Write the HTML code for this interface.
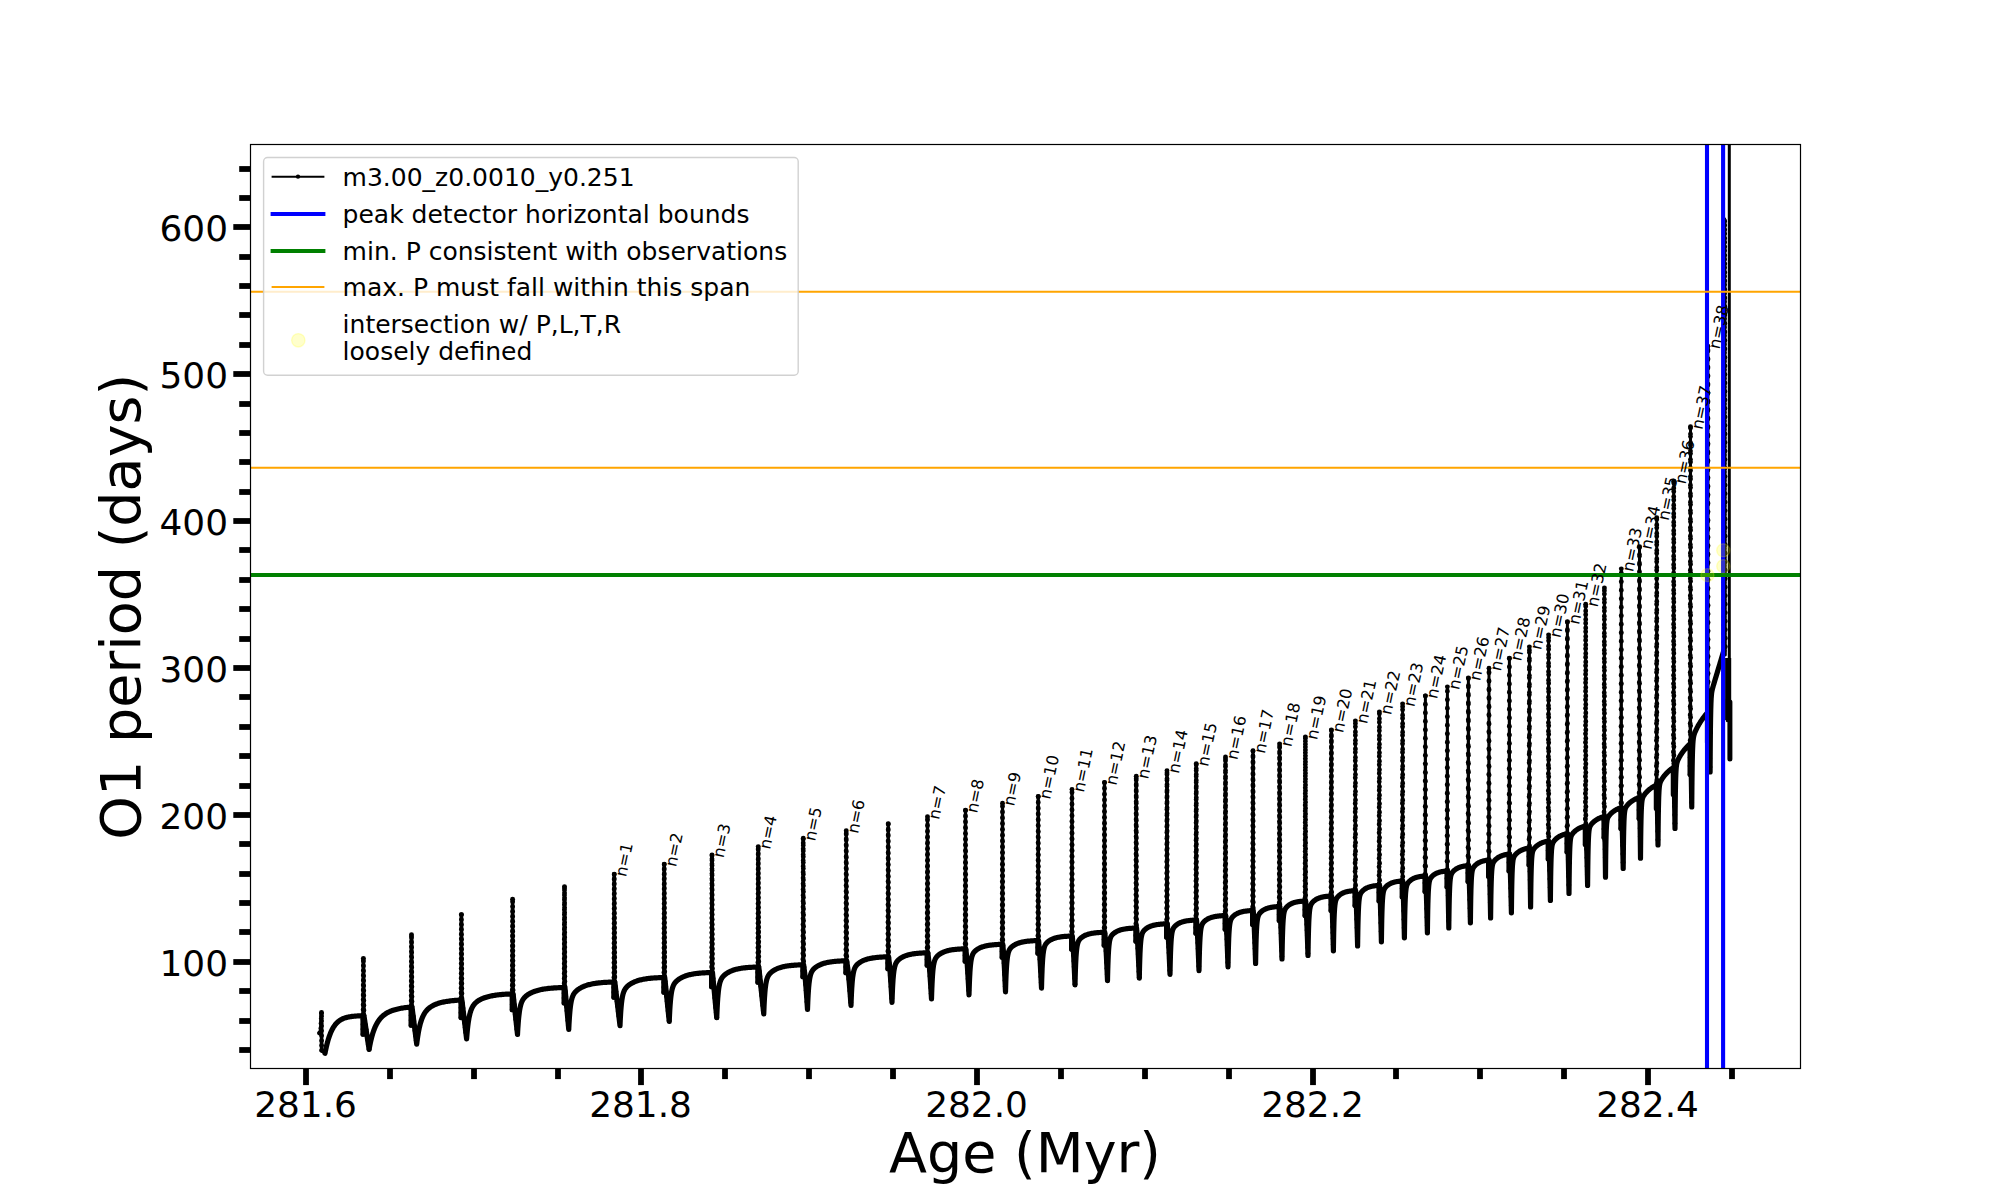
<!DOCTYPE html>
<html><head><meta charset="utf-8"><title>O1 period vs Age</title>
<style>
html,body{margin:0;padding:0;background:#fff;}
body{width:2000px;height:1200px;overflow:hidden;}
svg{display:block;font-family:"DejaVu Sans","Liberation Sans",sans-serif;}
</style></head><body>
<svg width="2000" height="1200" viewBox="0 0 2000 1200">
<rect width="2000" height="1200" fill="#fff"/>
<defs><clipPath id="ax"><rect x="250.5" y="144.5" width="1550.0" height="924.0"/></clipPath></defs>
<g clip-path="url(#ax)">
<g fill="none" stroke="#000" stroke-linejoin="round" stroke-linecap="round">
<path d="M325.00,1053.30 L325.01,1053.26 L325.03,1053.14 L325.07,1052.94 L325.12,1052.66 L325.19,1052.30 L325.28,1051.87 L325.38,1051.36 L325.50,1050.79 L325.63,1050.15 L325.78,1049.46 L325.94,1048.70 L326.12,1047.89 L326.31,1047.03 L326.52,1046.13 L326.74,1045.20 L326.99,1044.23 L327.24,1043.23 L327.51,1042.21 L327.80,1041.17 L328.10,1040.12 L328.42,1039.06 L328.75,1038.00 L329.10,1036.94 L329.47,1035.89 L329.85,1034.84 L330.24,1033.82 L330.65,1032.80 L331.08,1031.82 L331.52,1030.85 L331.98,1029.91 L332.45,1029.00 L332.94,1028.12 L333.45,1027.27 L333.96,1026.46 L334.50,1025.68 L335.05,1024.94 L335.62,1024.23 L336.20,1023.56 L336.80,1022.92 L337.41,1022.32 L338.04,1021.76 L338.68,1021.23 L339.34,1020.73 L340.01,1020.27 L340.70,1019.84 L341.41,1019.44 L342.13,1019.07 L342.87,1018.73 L343.62,1018.42 L344.39,1018.13 L345.17,1017.86 L345.97,1017.62 L346.78,1017.40 L347.61,1017.20 L348.46,1017.02 L349.32,1016.85 L350.20,1016.71 L351.09,1016.57 L352.00,1016.45 L352.92,1016.34 L353.86,1016.25 L354.81,1016.16 L355.78,1016.09 L356.76,1016.02 L357.77,1015.96 L358.78,1015.91 L359.81,1015.86 L360.86,1015.82 L361.92,1015.78 L363.00,1015.75 M363.00,1015.75 L363.00,1034.20 M363.97,1015.75 L365.25,1024.16 L366.54,1032.58 L367.82,1040.99 L369.10,1049.40 M369.10,1049.40 L369.11,1049.35 L369.13,1049.20 L369.18,1048.96 L369.24,1048.62 L369.31,1048.19 L369.41,1047.67 L369.52,1047.07 L369.65,1046.39 L369.79,1045.63 L369.96,1044.81 L370.14,1043.92 L370.33,1042.98 L370.55,1041.99 L370.78,1040.96 L371.03,1039.89 L371.29,1038.80 L371.58,1037.68 L371.88,1036.54 L372.19,1035.40 L372.53,1034.26 L372.88,1033.11 L373.25,1031.97 L373.63,1030.85 L374.04,1029.74 L374.46,1028.65 L374.89,1027.58 L375.35,1026.54 L375.82,1025.53 L376.31,1024.55 L376.81,1023.60 L377.34,1022.68 L377.88,1021.80 L378.43,1020.95 L379.01,1020.13 L379.60,1019.35 L380.21,1018.61 L380.83,1017.89 L381.48,1017.21 L382.14,1016.56 L382.81,1015.95 L383.51,1015.36 L384.22,1014.80 L384.95,1014.27 L385.69,1013.76 L386.46,1013.29 L387.24,1012.83 L388.03,1012.40 L388.85,1011.99 L389.68,1011.61 L390.53,1011.24 L391.39,1010.89 L392.28,1010.56 L393.18,1010.25 L394.09,1009.96 L395.03,1009.68 L395.98,1009.42 L396.95,1009.17 L397.93,1008.94 L398.94,1008.71 L399.96,1008.51 L400.99,1008.31 L402.05,1008.12 L403.12,1007.95 L404.21,1007.79 L405.31,1007.63 L406.44,1007.49 L407.58,1007.35 L408.73,1007.23 L409.91,1007.11 L411.10,1007.00 M411.10,1007.00 L411.10,1025.20 M412.02,1007.00 L413.19,1016.27 L414.36,1025.55 L415.53,1034.82 L416.70,1044.10 M416.70,1044.10 L416.71,1044.02 L416.74,1043.80 L416.78,1043.42 L416.84,1042.91 L416.93,1042.25 L417.03,1041.47 L417.14,1040.58 L417.28,1039.57 L417.43,1038.47 L417.60,1037.29 L417.79,1036.03 L418.00,1034.72 L418.23,1033.37 L418.47,1031.99 L418.73,1030.59 L419.01,1029.18 L419.31,1027.78 L419.63,1026.39 L419.96,1025.02 L420.32,1023.69 L420.69,1022.39 L421.08,1021.13 L421.48,1019.92 L421.91,1018.75 L422.35,1017.64 L422.81,1016.58 L423.29,1015.58 L423.79,1014.62 L424.30,1013.72 L424.84,1012.86 L425.39,1012.06 L425.96,1011.30 L426.55,1010.58 L427.15,1009.91 L427.77,1009.28 L428.42,1008.68 L429.08,1008.11 L429.75,1007.58 L430.45,1007.08 L431.17,1006.61 L431.90,1006.16 L432.65,1005.73 L433.42,1005.33 L434.20,1004.95 L435.01,1004.59 L435.83,1004.25 L436.67,1003.93 L437.53,1003.63 L438.41,1003.34 L439.30,1003.06 L440.22,1002.81 L441.15,1002.56 L442.10,1002.33 L443.06,1002.11 L444.05,1001.91 L445.05,1001.71 L446.07,1001.53 L447.11,1001.36 L448.17,1001.20 L449.25,1001.05 L450.34,1000.90 L451.45,1000.77 L452.58,1000.65 L453.73,1000.54 L454.90,1000.43 L456.08,1000.33 L457.28,1000.24 L458.50,1000.15 L459.74,1000.07 L461.00,1000.00 M461.00,1000.00 L461.00,1017.60 M461.92,1000.00 L463.09,1009.73 L464.26,1019.45 L465.43,1029.18 L466.60,1038.90 M466.60,1038.90 L466.61,1038.78 L466.64,1038.41 L466.68,1037.80 L466.75,1036.97 L466.83,1035.94 L466.94,1034.71 L467.06,1033.33 L467.20,1031.82 L467.35,1030.20 L467.53,1028.51 L467.73,1026.76 L467.94,1025.00 L468.17,1023.23 L468.42,1021.49 L468.69,1019.79 L468.98,1018.15 L469.29,1016.58 L469.62,1015.09 L469.96,1013.68 L470.32,1012.36 L470.70,1011.13 L471.10,1009.99 L471.52,1008.93 L471.96,1007.96 L472.42,1007.06 L472.89,1006.23 L473.38,1005.46 L473.90,1004.75 L474.43,1004.09 L474.98,1003.48 L475.54,1002.91 L476.13,1002.37 L476.73,1001.86 L477.36,1001.39 L478.00,1000.94 L478.66,1000.51 L479.34,1000.10 L480.04,999.72 L480.75,999.35 L481.49,998.99 L482.24,998.65 L483.02,998.33 L483.81,998.02 L484.62,997.73 L485.44,997.45 L486.29,997.18 L487.16,996.92 L488.04,996.68 L488.94,996.45 L489.87,996.24 L490.81,996.03 L491.76,995.84 L492.74,995.65 L493.74,995.48 L494.75,995.32 L495.78,995.17 L496.84,995.03 L497.91,994.90 L498.99,994.77 L500.10,994.66 L501.23,994.55 L502.37,994.46 L503.54,994.36 L504.72,994.28 L505.92,994.20 L507.14,994.13 L508.38,994.07 L509.63,994.01 L510.91,993.95 L512.20,993.90 M512.20,993.90 L512.20,1009.70 M513.09,993.90 L514.19,1004.05 L515.29,1014.20 L516.40,1024.35 L517.50,1034.50 M517.50,1034.50 L517.51,1034.32 L517.54,1033.77 L517.59,1032.88 L517.65,1031.67 L517.74,1030.18 L517.84,1028.46 L517.97,1026.54 L518.11,1024.50 L518.27,1022.37 L518.45,1020.20 L518.65,1018.04 L518.87,1015.93 L519.11,1013.89 L519.36,1011.96 L519.64,1010.15 L519.93,1008.48 L520.25,1006.94 L520.58,1005.54 L520.93,1004.27 L521.30,1003.12 L521.69,1002.09 L522.10,1001.16 L522.53,1000.31 L522.98,999.55 L523.44,998.85 L523.93,998.21 L524.43,997.62 L524.96,997.06 L525.50,996.54 L526.06,996.05 L526.64,995.58 L527.24,995.13 L527.86,994.70 L528.49,994.28 L529.15,993.88 L529.83,993.50 L530.52,993.13 L531.23,992.77 L531.97,992.43 L532.72,992.10 L533.49,991.78 L534.28,991.48 L535.08,991.19 L535.91,990.91 L536.76,990.65 L537.62,990.40 L538.51,990.16 L539.41,989.94 L540.33,989.73 L541.28,989.53 L542.24,989.34 L543.22,989.17 L544.21,989.00 L545.23,988.85 L546.27,988.71 L547.32,988.57 L548.40,988.45 L549.49,988.33 L550.61,988.23 L551.74,988.13 L552.89,988.04 L554.06,987.96 L555.25,987.88 L556.45,987.81 L557.68,987.74 L558.93,987.69 L560.19,987.63 L561.48,987.58 L562.78,987.54 L564.10,987.50 M564.10,987.50 L564.10,1002.95 M564.92,987.50 L565.88,998.00 L566.84,1008.50 L567.79,1019.00 L568.75,1029.50 M568.75,1029.50 L568.76,1029.30 L568.79,1028.69 L568.83,1027.70 L568.90,1026.36 L568.98,1024.73 L569.08,1022.84 L569.20,1020.77 L569.34,1018.56 L569.50,1016.28 L569.67,1013.99 L569.86,1011.72 L570.08,1009.53 L570.31,1007.45 L570.55,1005.50 L570.82,1003.70 L571.11,1002.05 L571.41,1000.55 L571.73,999.20 L572.07,998.00 L572.43,996.92 L572.81,995.96 L573.20,995.10 L573.62,994.32 L574.05,993.62 L574.50,992.98 L574.97,992.38 L575.46,991.83 L575.97,991.31 L576.49,990.82 L577.03,990.36 L577.60,989.91 L578.17,989.48 L578.77,989.06 L579.39,988.66 L580.02,988.27 L580.68,987.90 L581.35,987.53 L582.04,987.18 L582.75,986.85 L583.48,986.52 L584.22,986.21 L584.99,985.91 L585.77,985.63 L586.57,985.36 L587.39,985.10 L588.23,984.85 L589.08,984.62 L589.96,984.40 L590.85,984.19 L591.76,984.00 L592.69,983.81 L593.64,983.64 L594.60,983.48 L595.59,983.33 L596.59,983.19 L597.61,983.06 L598.65,982.93 L599.71,982.82 L600.79,982.72 L601.88,982.62 L603.00,982.53 L604.13,982.45 L605.28,982.37 L606.45,982.30 L607.64,982.24 L608.84,982.18 L610.07,982.13 L611.31,982.08 L612.57,982.04 L613.85,982.00 M613.85,982.00 L613.85,997.20 M614.83,982.00 L616.12,992.94 L617.41,1003.88 L618.71,1014.81 L620.00,1025.75 M620.00,1025.75 L620.01,1025.54 L620.04,1024.91 L620.08,1023.90 L620.14,1022.52 L620.22,1020.84 L620.32,1018.90 L620.44,1016.77 L620.57,1014.50 L620.72,1012.16 L620.89,1009.80 L621.08,1007.48 L621.29,1005.23 L621.51,1003.10 L621.75,1001.10 L622.01,999.25 L622.29,997.57 L622.59,996.04 L622.90,994.67 L623.23,993.44 L623.58,992.35 L623.95,991.38 L624.33,990.50 L624.73,989.72 L625.15,989.02 L625.59,988.37 L626.05,987.78 L626.52,987.23 L627.02,986.71 L627.53,986.23 L628.05,985.76 L628.60,985.32 L629.16,984.89 L629.75,984.48 L630.35,984.08 L630.96,983.70 L631.60,983.33 L632.25,982.97 L632.92,982.62 L633.61,982.29 L634.32,981.97 L635.04,981.66 L635.79,981.37 L636.55,981.09 L637.33,980.82 L638.12,980.56 L638.94,980.32 L639.77,980.09 L640.62,979.87 L641.49,979.67 L642.37,979.47 L643.28,979.29 L644.20,979.12 L645.14,978.96 L646.10,978.81 L647.07,978.67 L648.06,978.54 L649.08,978.42 L650.10,978.31 L651.15,978.21 L652.22,978.11 L653.30,978.02 L654.40,977.94 L655.52,977.87 L656.66,977.80 L657.81,977.74 L658.98,977.68 L660.17,977.63 L661.38,977.58 L662.61,977.54 L663.85,977.50 M663.85,977.50 L663.85,992.20 M664.75,977.50 L665.88,988.50 L667.00,999.50 L668.12,1010.50 L669.25,1021.50 M669.25,1021.50 L669.26,1021.28 L669.28,1020.64 L669.33,1019.60 L669.39,1018.18 L669.47,1016.45 L669.56,1014.46 L669.67,1012.27 L669.80,1009.94 L669.95,1007.53 L670.11,1005.11 L670.30,1002.73 L670.49,1000.43 L670.71,998.24 L670.94,996.19 L671.19,994.30 L671.46,992.58 L671.75,991.02 L672.05,989.62 L672.37,988.38 L672.71,987.27 L673.06,986.28 L673.43,985.40 L673.82,984.61 L674.23,983.91 L674.65,983.26 L675.09,982.67 L675.55,982.12 L676.03,981.61 L676.52,981.12 L677.03,980.66 L677.56,980.22 L678.10,979.80 L678.66,979.39 L679.24,979.00 L679.84,978.62 L680.45,978.25 L681.08,977.90 L681.73,977.56 L682.40,977.23 L683.08,976.91 L683.78,976.61 L684.50,976.32 L685.23,976.04 L685.98,975.78 L686.75,975.52 L687.54,975.29 L688.34,975.06 L689.16,974.84 L690.00,974.64 L690.86,974.45 L691.73,974.27 L692.62,974.10 L693.53,973.94 L694.45,973.80 L695.39,973.66 L696.35,973.53 L697.33,973.41 L698.32,973.30 L699.34,973.20 L700.36,973.10 L701.41,973.02 L702.47,972.94 L703.55,972.86 L704.65,972.80 L705.77,972.74 L706.90,972.68 L708.05,972.63 L709.21,972.58 L710.40,972.54 L711.60,972.50 M711.60,972.50 L711.60,986.70 M712.48,972.50 L713.54,983.81 L714.61,995.12 L715.68,1006.44 L716.75,1017.75 M716.75,1017.75 L716.76,1017.52 L716.78,1016.85 L716.83,1015.75 L716.88,1014.27 L716.96,1012.46 L717.05,1010.37 L717.16,1008.07 L717.29,1005.63 L717.43,1003.11 L717.59,1000.58 L717.76,998.08 L717.96,995.68 L718.17,993.39 L718.39,991.25 L718.64,989.28 L718.90,987.49 L719.17,985.86 L719.47,984.41 L719.78,983.12 L720.11,981.97 L720.45,980.95 L720.81,980.05 L721.19,979.24 L721.58,978.51 L721.99,977.85 L722.42,977.25 L722.86,976.69 L723.33,976.17 L723.80,975.68 L724.30,975.22 L724.81,974.77 L725.34,974.35 L725.88,973.94 L726.45,973.54 L727.02,973.16 L727.62,972.79 L728.23,972.43 L728.86,972.09 L729.51,971.76 L730.17,971.44 L730.85,971.14 L731.55,970.84 L732.26,970.56 L732.99,970.30 L733.74,970.04 L734.50,969.80 L735.28,969.57 L736.08,969.36 L736.89,969.15 L737.72,968.96 L738.57,968.78 L739.43,968.61 L740.31,968.45 L741.21,968.30 L742.12,968.17 L743.05,968.04 L744.00,967.92 L744.97,967.81 L745.95,967.70 L746.95,967.61 L747.96,967.52 L748.99,967.44 L750.04,967.37 L751.11,967.30 L752.19,967.24 L753.29,967.18 L754.40,967.13 L755.53,967.08 L756.68,967.04 L757.85,967.00 M757.85,967.00 L757.85,982.20 M758.80,967.00 L760.04,978.75 L761.27,990.50 L762.51,1002.25 L763.75,1014.00 M763.75,1014.00 L763.76,1013.78 L763.78,1013.12 L763.82,1012.04 L763.88,1010.59 L763.95,1008.81 L764.04,1006.76 L764.14,1004.50 L764.26,1002.11 L764.40,999.64 L764.55,997.16 L764.72,994.72 L764.90,992.36 L765.10,990.12 L765.31,988.03 L765.55,986.11 L765.79,984.36 L766.06,982.78 L766.34,981.37 L766.63,980.11 L766.94,979.00 L767.27,978.02 L767.61,977.14 L767.97,976.37 L768.35,975.67 L768.74,975.04 L769.14,974.46 L769.57,973.93 L770.01,973.44 L770.46,972.98 L770.93,972.54 L771.42,972.12 L771.92,971.71 L772.44,971.33 L772.97,970.95 L773.52,970.59 L774.09,970.25 L774.67,969.91 L775.27,969.59 L775.89,969.28 L776.52,968.98 L777.16,968.69 L777.83,968.42 L778.50,968.15 L779.20,967.90 L779.91,967.66 L780.63,967.44 L781.38,967.22 L782.13,967.02 L782.91,966.83 L783.70,966.65 L784.50,966.48 L785.33,966.32 L786.16,966.17 L787.02,966.03 L787.89,965.90 L788.77,965.78 L789.68,965.66 L790.59,965.56 L791.53,965.46 L792.48,965.37 L793.44,965.29 L794.42,965.21 L795.42,965.14 L796.43,965.08 L797.46,965.02 L798.51,964.97 L799.57,964.92 L800.65,964.88 L801.74,964.84 L802.85,964.80 M802.85,964.80 L802.85,976.70 M803.67,964.80 L805.03,975.97 L805.95,987.15 L806.76,998.33 L807.50,1009.50 M807.50,1009.50 L807.51,1009.28 L807.53,1008.61 L807.57,1007.54 L807.63,1006.08 L807.70,1004.30 L807.78,1002.25 L807.88,999.99 L808.00,997.59 L808.13,995.12 L808.28,992.64 L808.45,990.20 L808.63,987.84 L808.82,985.61 L809.03,983.52 L809.26,981.61 L809.50,979.86 L809.76,978.29 L810.04,976.89 L810.33,975.64 L810.63,974.54 L810.95,973.57 L811.29,972.71 L811.64,971.95 L812.01,971.27 L812.39,970.66 L812.79,970.10 L813.21,969.58 L813.64,969.10 L814.08,968.65 L814.54,968.23 L815.02,967.83 L815.51,967.44 L816.02,967.07 L816.55,966.71 L817.09,966.36 L817.64,966.03 L818.21,965.71 L818.80,965.40 L819.40,965.10 L820.02,964.81 L820.66,964.53 L821.31,964.27 L821.97,964.02 L822.65,963.78 L823.35,963.55 L824.06,963.33 L824.79,963.12 L825.53,962.93 L826.29,962.75 L827.07,962.57 L827.86,962.41 L828.66,962.26 L829.48,962.11 L830.32,961.98 L831.18,961.85 L832.04,961.74 L832.93,961.63 L833.83,961.53 L834.74,961.44 L835.68,961.35 L836.62,961.27 L837.59,961.20 L838.56,961.13 L839.56,961.07 L840.57,961.01 L841.59,960.96 L842.63,960.92 L843.69,960.87 L844.76,960.83 L845.85,960.80 M845.85,960.80 L845.85,972.70 M846.73,960.80 L848.24,971.97 L849.27,983.15 L850.17,994.33 L851.00,1005.50 M851.00,1005.50 L851.01,1005.27 L851.03,1004.60 L851.07,1003.51 L851.12,1002.04 L851.19,1000.24 L851.27,998.16 L851.37,995.88 L851.48,993.46 L851.61,990.96 L851.75,988.45 L851.91,985.98 L852.08,983.60 L852.27,981.35 L852.47,979.25 L852.69,977.32 L852.93,975.56 L853.17,973.99 L853.44,972.58 L853.71,971.33 L854.01,970.23 L854.32,969.27 L854.64,968.41 L854.98,967.66 L855.33,966.98 L855.70,966.38 L856.08,965.83 L856.48,965.32 L856.90,964.85 L857.32,964.42 L857.77,964.00 L858.23,963.61 L858.70,963.23 L859.19,962.87 L859.69,962.52 L860.21,962.19 L860.75,961.87 L861.30,961.55 L861.86,961.25 L862.44,960.96 L863.03,960.69 L863.64,960.42 L864.27,960.16 L864.91,959.92 L865.56,959.68 L866.23,959.46 L866.91,959.25 L867.61,959.05 L868.33,958.86 L869.06,958.68 L869.80,958.52 L870.56,958.36 L871.34,958.21 L872.12,958.07 L872.93,957.94 L873.75,957.82 L874.58,957.71 L875.43,957.60 L876.30,957.51 L877.18,957.42 L878.07,957.33 L878.98,957.26 L879.91,957.19 L880.85,957.12 L881.80,957.06 L882.77,957.01 L883.76,956.96 L884.76,956.91 L885.77,956.87 L886.80,956.83 L887.85,956.80 M887.85,956.80 L887.85,968.70 M888.62,956.80 L889.82,968.22 L890.63,979.65 L891.35,991.08 L892.00,1002.50 M892.00,1002.50 L892.01,1002.27 L892.03,1001.57 L892.06,1000.45 L892.11,998.93 L892.18,997.07 L892.26,994.92 L892.35,992.57 L892.46,990.07 L892.58,987.49 L892.72,984.91 L892.87,982.36 L893.03,979.91 L893.21,977.59 L893.40,975.43 L893.61,973.45 L893.83,971.64 L894.07,970.03 L894.32,968.59 L894.59,967.31 L894.87,966.19 L895.16,965.21 L895.47,964.34 L895.79,963.58 L896.13,962.90 L896.48,962.29 L896.84,961.74 L897.22,961.23 L897.62,960.76 L898.02,960.33 L898.45,959.92 L898.88,959.53 L899.34,959.16 L899.80,958.80 L900.28,958.45 L900.77,958.12 L901.28,957.80 L901.81,957.50 L902.34,957.20 L902.90,956.91 L903.46,956.64 L904.04,956.37 L904.64,956.12 L905.24,955.88 L905.87,955.65 L906.51,955.43 L907.16,955.22 L907.82,955.02 L908.50,954.84 L909.20,954.66 L909.91,954.50 L910.63,954.34 L911.37,954.19 L912.12,954.06 L912.89,953.93 L913.67,953.81 L914.46,953.70 L915.27,953.59 L916.10,953.50 L916.94,953.41 L917.79,953.33 L918.65,953.25 L919.54,953.18 L920.43,953.12 L921.34,953.06 L922.26,953.00 L923.20,952.96 L924.16,952.91 L925.12,952.87 L926.10,952.83 L927.10,952.80 M927.10,952.80 L927.10,965.20 M927.90,952.80 L929.17,964.35 L930.04,975.90 L930.80,987.45 L931.50,999.00 M931.50,999.00 L931.51,998.76 L931.53,998.05 L931.56,996.90 L931.61,995.35 L931.67,993.45 L931.75,991.26 L931.84,988.85 L931.94,986.30 L932.06,983.67 L932.19,981.03 L932.33,978.44 L932.49,975.94 L932.66,973.58 L932.84,971.38 L933.04,969.36 L933.26,967.53 L933.48,965.88 L933.72,964.43 L933.98,963.14 L934.24,962.01 L934.52,961.02 L934.82,960.14 L935.13,959.38 L935.45,958.70 L935.79,958.09 L936.14,957.55 L936.50,957.05 L936.88,956.59 L937.27,956.16 L937.67,955.76 L938.09,955.37 L938.52,955.01 L938.97,954.66 L939.43,954.32 L939.90,954.00 L940.39,953.69 L940.89,953.38 L941.40,953.09 L941.93,952.82 L942.47,952.55 L943.03,952.29 L943.60,952.04 L944.18,951.81 L944.78,951.58 L945.39,951.37 L946.01,951.16 L946.65,950.97 L947.30,950.79 L947.96,950.62 L948.64,950.46 L949.34,950.30 L950.04,950.16 L950.76,950.03 L951.50,949.90 L952.24,949.78 L953.00,949.67 L953.78,949.57 L954.57,949.48 L955.37,949.39 L956.19,949.31 L957.02,949.24 L957.86,949.17 L958.72,949.11 L959.59,949.05 L960.47,949.00 L961.37,948.95 L962.28,948.91 L963.21,948.87 L964.15,948.83 L965.10,948.80 M965.10,948.80 L965.10,961.20 M965.85,948.80 L966.96,960.35 L967.72,971.90 L968.39,983.45 L969.00,995.00 M969.00,995.00 L969.01,994.76 L969.03,994.03 L969.06,992.86 L969.11,991.27 L969.17,989.33 L969.24,987.09 L969.33,984.64 L969.43,982.03 L969.55,979.35 L969.68,976.65 L969.82,974.01 L969.97,971.46 L970.14,969.06 L970.32,966.82 L970.52,964.76 L970.73,962.90 L970.95,961.24 L971.19,959.76 L971.44,958.46 L971.70,957.31 L971.98,956.32 L972.27,955.44 L972.57,954.68 L972.89,954.00 L973.22,953.40 L973.57,952.85 L973.92,952.36 L974.30,951.91 L974.68,951.48 L975.08,951.09 L975.49,950.71 L975.92,950.36 L976.36,950.01 L976.81,949.69 L977.27,949.37 L977.75,949.06 L978.25,948.77 L978.75,948.49 L979.27,948.22 L979.81,947.95 L980.36,947.70 L980.92,947.46 L981.49,947.23 L982.08,947.01 L982.68,946.80 L983.29,946.61 L983.92,946.42 L984.56,946.24 L985.22,946.07 L985.89,945.91 L986.57,945.77 L987.27,945.63 L987.98,945.50 L988.70,945.37 L989.43,945.26 L990.18,945.15 L990.95,945.05 L991.72,944.96 L992.51,944.88 L993.32,944.80 L994.14,944.73 L994.97,944.66 L995.81,944.60 L996.67,944.55 L997.54,944.49 L998.43,944.45 L999.32,944.41 L1000.24,944.37 L1001.16,944.33 L1002.10,944.30 M1002.10,944.30 L1002.10,957.20 M1002.80,944.30 L1003.75,956.22 L1004.41,968.15 L1004.98,980.08 L1005.50,992.00 M1005.50,992.00 L1005.51,991.75 L1005.53,991.01 L1005.56,989.80 L1005.61,988.17 L1005.67,986.18 L1005.74,983.89 L1005.82,981.37 L1005.92,978.69 L1006.03,975.94 L1006.16,973.18 L1006.30,970.47 L1006.45,967.86 L1006.62,965.40 L1006.79,963.11 L1006.99,961.01 L1007.19,959.11 L1007.41,957.41 L1007.64,955.91 L1007.88,954.59 L1008.14,953.43 L1008.41,952.42 L1008.70,951.54 L1008.99,950.77 L1009.30,950.09 L1009.63,949.48 L1009.96,948.94 L1010.31,948.45 L1010.68,948.01 L1011.05,947.59 L1011.44,947.20 L1011.84,946.83 L1012.26,946.48 L1012.69,946.14 L1013.13,945.82 L1013.59,945.51 L1014.06,945.21 L1014.54,944.93 L1015.03,944.65 L1015.54,944.38 L1016.06,944.13 L1016.60,943.88 L1017.15,943.64 L1017.71,943.42 L1018.28,943.20 L1018.87,943.00 L1019.47,942.81 L1020.08,942.62 L1020.71,942.45 L1021.35,942.28 L1022.01,942.13 L1022.67,941.98 L1023.35,941.85 L1024.05,941.72 L1024.75,941.60 L1025.47,941.49 L1026.20,941.38 L1026.95,941.29 L1027.71,941.20 L1028.48,941.12 L1029.27,941.04 L1030.07,940.97 L1030.88,940.90 L1031.70,940.85 L1032.54,940.79 L1033.39,940.74 L1034.26,940.69 L1035.14,940.65 L1036.03,940.62 L1036.93,940.58 L1037.85,940.55 M1037.85,940.55 L1037.85,953.20 M1038.58,940.55 L1039.61,952.47 L1040.31,964.40 L1040.93,976.33 L1041.50,988.25 M1041.50,988.25 L1041.51,987.99 L1041.52,987.23 L1041.56,985.99 L1041.60,984.32 L1041.65,982.28 L1041.72,979.93 L1041.80,977.34 L1041.89,974.60 L1042.00,971.78 L1042.11,968.95 L1042.24,966.18 L1042.38,963.51 L1042.54,960.99 L1042.70,958.64 L1042.88,956.50 L1043.07,954.56 L1043.28,952.83 L1043.49,951.30 L1043.72,949.96 L1043.96,948.78 L1044.21,947.76 L1044.47,946.87 L1044.75,946.10 L1045.04,945.42 L1045.34,944.81 L1045.65,944.28 L1045.98,943.79 L1046.32,943.35 L1046.67,942.94 L1047.03,942.55 L1047.40,942.19 L1047.79,941.85 L1048.19,941.52 L1048.60,941.20 L1049.03,940.90 L1049.46,940.61 L1049.91,940.32 L1050.37,940.05 L1050.84,939.79 L1051.33,939.54 L1051.83,939.30 L1052.34,939.07 L1052.86,938.85 L1053.39,938.64 L1053.94,938.44 L1054.50,938.25 L1055.07,938.07 L1055.65,937.90 L1056.25,937.74 L1056.86,937.59 L1057.48,937.45 L1058.11,937.32 L1058.76,937.19 L1059.41,937.08 L1060.08,936.97 L1060.76,936.87 L1061.46,936.77 L1062.16,936.68 L1062.88,936.60 L1063.61,936.53 L1064.36,936.46 L1065.11,936.40 L1065.88,936.34 L1066.66,936.28 L1067.45,936.24 L1068.26,936.19 L1069.08,936.15 L1069.90,936.11 L1070.75,936.08 L1071.60,936.05 M1071.60,936.05 L1071.60,949.20 M1072.30,936.05 L1073.25,948.29 L1073.91,960.52 L1074.48,972.76 L1075.00,985.00 M1075.00,985.00 L1075.01,984.74 L1075.02,983.96 L1075.05,982.70 L1075.10,980.99 L1075.15,978.90 L1075.21,976.50 L1075.29,973.87 L1075.38,971.07 L1075.48,968.20 L1075.59,965.31 L1075.72,962.48 L1075.86,959.76 L1076.00,957.20 L1076.16,954.81 L1076.34,952.64 L1076.52,950.67 L1076.72,948.91 L1076.92,947.36 L1077.14,946.00 L1077.38,944.82 L1077.62,943.79 L1077.87,942.90 L1078.14,942.12 L1078.42,941.44 L1078.71,940.85 L1079.01,940.31 L1079.33,939.83 L1079.66,939.40 L1079.99,938.99 L1080.34,938.62 L1080.71,938.26 L1081.08,937.93 L1081.47,937.61 L1081.87,937.30 L1082.28,937.01 L1082.70,936.72 L1083.13,936.45 L1083.58,936.19 L1084.03,935.93 L1084.50,935.69 L1084.98,935.46 L1085.48,935.23 L1085.98,935.02 L1086.50,934.82 L1087.03,934.62 L1087.57,934.44 L1088.12,934.27 L1088.68,934.10 L1089.26,933.94 L1089.85,933.80 L1090.45,933.66 L1091.06,933.53 L1091.68,933.41 L1092.32,933.30 L1092.96,933.19 L1093.62,933.09 L1094.30,933.00 L1094.98,932.92 L1095.67,932.84 L1096.38,932.76 L1097.10,932.70 L1097.83,932.64 L1098.57,932.58 L1099.33,932.53 L1100.09,932.48 L1100.87,932.44 L1101.66,932.40 L1102.46,932.36 L1103.27,932.33 L1104.10,932.30 M1104.10,932.30 L1104.10,945.20 M1104.80,932.30 L1105.75,944.41 L1106.41,956.52 L1106.98,968.64 L1107.50,980.75 M1107.50,980.75 L1107.51,980.47 L1107.52,979.64 L1107.55,978.30 L1107.59,976.48 L1107.64,974.27 L1107.71,971.74 L1107.78,968.98 L1107.87,966.06 L1107.97,963.09 L1108.08,960.12 L1108.20,957.24 L1108.33,954.49 L1108.48,951.93 L1108.63,949.57 L1108.80,947.43 L1108.98,945.52 L1109.17,943.84 L1109.37,942.37 L1109.59,941.10 L1109.81,940.00 L1110.05,939.05 L1110.30,938.23 L1110.56,937.53 L1110.83,936.91 L1111.12,936.36 L1111.41,935.88 L1111.72,935.43 L1112.04,935.03 L1112.37,934.65 L1112.71,934.30 L1113.06,933.96 L1113.42,933.64 L1113.80,933.33 L1114.19,933.03 L1114.59,932.74 L1115.00,932.47 L1115.42,932.20 L1115.85,931.94 L1116.30,931.69 L1116.76,931.45 L1117.23,931.22 L1117.71,931.00 L1118.20,930.78 L1118.70,930.58 L1119.22,930.39 L1119.74,930.21 L1120.28,930.03 L1120.83,929.87 L1121.39,929.71 L1121.96,929.57 L1122.55,929.43 L1123.14,929.30 L1123.75,929.18 L1124.37,929.06 L1125.00,928.95 L1125.64,928.86 L1126.30,928.76 L1126.96,928.68 L1127.64,928.60 L1128.33,928.52 L1129.03,928.46 L1129.74,928.39 L1130.46,928.34 L1131.20,928.28 L1131.94,928.24 L1132.70,928.19 L1133.47,928.15 L1134.25,928.11 L1135.05,928.08 L1135.85,928.05 M1135.85,928.05 L1135.85,941.20 M1136.56,928.05 L1137.53,940.60 L1138.19,953.15 L1138.77,965.70 L1139.30,978.25 M1139.30,978.25 L1139.31,977.96 L1139.32,977.10 L1139.35,975.70 L1139.39,973.83 L1139.44,971.53 L1139.50,968.91 L1139.57,966.04 L1139.66,963.02 L1139.75,959.94 L1139.86,956.86 L1139.97,953.88 L1140.10,951.03 L1140.24,948.37 L1140.39,945.93 L1140.55,943.72 L1140.73,941.75 L1140.91,940.01 L1141.11,938.50 L1141.31,937.18 L1141.53,936.05 L1141.76,935.08 L1142.00,934.24 L1142.25,933.51 L1142.51,932.88 L1142.78,932.32 L1143.07,931.82 L1143.36,931.37 L1143.67,930.96 L1143.99,930.58 L1144.31,930.22 L1144.65,929.88 L1145.01,929.55 L1145.37,929.23 L1145.74,928.93 L1146.12,928.64 L1146.52,928.36 L1146.93,928.08 L1147.35,927.82 L1147.77,927.56 L1148.21,927.32 L1148.67,927.08 L1149.13,926.85 L1149.60,926.64 L1150.09,926.43 L1150.58,926.23 L1151.09,926.04 L1151.61,925.86 L1152.14,925.69 L1152.68,925.53 L1153.23,925.38 L1153.79,925.24 L1154.37,925.10 L1154.95,924.98 L1155.55,924.86 L1156.15,924.75 L1156.77,924.65 L1157.40,924.55 L1158.04,924.46 L1158.69,924.38 L1159.36,924.30 L1160.03,924.23 L1160.72,924.16 L1161.41,924.10 L1162.12,924.05 L1162.84,924.00 L1163.57,923.95 L1164.31,923.91 L1165.06,923.87 L1165.83,923.83 L1166.60,923.80 M1166.60,923.80 L1166.60,937.20 M1167.30,923.80 L1168.25,936.47 L1168.91,949.15 L1169.48,961.83 L1170.00,974.50 M1170.00,974.50 L1170.01,974.21 L1170.02,973.35 L1170.05,971.94 L1170.08,970.06 L1170.13,967.76 L1170.19,965.13 L1170.26,962.25 L1170.34,959.22 L1170.43,956.12 L1170.53,953.04 L1170.64,950.04 L1170.76,947.19 L1170.89,944.53 L1171.03,942.08 L1171.19,939.87 L1171.35,937.90 L1171.52,936.16 L1171.71,934.64 L1171.90,933.33 L1172.11,932.20 L1172.33,931.23 L1172.55,930.40 L1172.79,929.68 L1173.04,929.05 L1173.30,928.50 L1173.57,928.01 L1173.85,927.57 L1174.14,927.16 L1174.44,926.78 L1174.75,926.43 L1175.07,926.09 L1175.40,925.77 L1175.75,925.46 L1176.10,925.16 L1176.46,924.87 L1176.84,924.59 L1177.22,924.32 L1177.62,924.06 L1178.02,923.81 L1178.44,923.57 L1178.87,923.34 L1179.31,923.11 L1179.75,922.90 L1180.21,922.69 L1180.68,922.49 L1181.16,922.31 L1181.65,922.13 L1182.15,921.96 L1182.67,921.80 L1183.19,921.65 L1183.72,921.50 L1184.26,921.37 L1184.82,921.24 L1185.38,921.12 L1185.96,921.01 L1186.54,920.91 L1187.14,920.81 L1187.75,920.72 L1188.36,920.64 L1188.99,920.56 L1189.63,920.49 L1190.28,920.42 L1190.94,920.36 L1191.61,920.30 L1192.29,920.25 L1192.98,920.20 L1193.68,920.16 L1194.39,920.12 L1195.12,920.08 L1195.85,920.05 M1195.85,920.05 L1195.85,933.20 M1196.53,920.05 L1197.40,932.72 L1198.00,945.40 L1198.52,958.08 L1199.00,970.75 M1199.00,970.75 L1199.01,970.45 L1199.02,969.58 L1199.05,968.15 L1199.09,966.23 L1199.13,963.89 L1199.19,961.21 L1199.26,958.28 L1199.34,955.20 L1199.43,952.05 L1199.53,948.92 L1199.64,945.87 L1199.77,942.97 L1199.90,940.27 L1200.04,937.78 L1200.20,935.54 L1200.36,933.54 L1200.54,931.77 L1200.73,930.24 L1200.92,928.91 L1201.13,927.77 L1201.35,926.79 L1201.58,925.95 L1201.82,925.23 L1202.07,924.60 L1202.33,924.04 L1202.60,923.55 L1202.88,923.11 L1203.18,922.70 L1203.48,922.33 L1203.79,921.97 L1204.12,921.64 L1204.45,921.32 L1204.80,921.01 L1205.16,920.71 L1205.53,920.42 L1205.90,920.14 L1206.29,919.87 L1206.69,919.61 L1207.10,919.36 L1207.52,919.12 L1207.95,918.88 L1208.40,918.66 L1208.85,918.44 L1209.31,918.24 L1209.79,918.04 L1210.27,917.85 L1210.77,917.67 L1211.27,917.50 L1211.79,917.34 L1212.32,917.18 L1212.85,917.04 L1213.40,916.90 L1213.96,916.77 L1214.53,916.65 L1215.11,916.54 L1215.70,916.43 L1216.31,916.33 L1216.92,916.24 L1217.54,916.16 L1218.18,916.08 L1218.82,916.00 L1219.48,915.93 L1220.14,915.87 L1220.82,915.81 L1221.50,915.76 L1222.20,915.71 L1222.91,915.66 L1223.63,915.62 L1224.36,915.58 L1225.10,915.55 M1225.10,915.55 L1225.10,929.20 M1225.75,915.55 L1226.55,928.41 L1227.09,941.27 L1227.56,954.14 L1228.00,967.00 M1228.00,967.00 L1228.01,966.70 L1228.02,965.79 L1228.05,964.33 L1228.08,962.36 L1228.13,959.95 L1228.18,957.20 L1228.25,954.19 L1228.32,951.03 L1228.41,947.79 L1228.50,944.58 L1228.61,941.45 L1228.72,938.47 L1228.85,935.70 L1228.98,933.15 L1229.13,930.85 L1229.29,928.80 L1229.45,926.99 L1229.63,925.42 L1229.81,924.07 L1230.01,922.90 L1230.21,921.90 L1230.43,921.05 L1230.66,920.31 L1230.89,919.67 L1231.14,919.11 L1231.39,918.62 L1231.66,918.17 L1231.94,917.76 L1232.22,917.38 L1232.52,917.03 L1232.82,916.69 L1233.14,916.36 L1233.47,916.05 L1233.80,915.75 L1234.15,915.47 L1234.51,915.18 L1234.87,914.91 L1235.25,914.65 L1235.64,914.39 L1236.03,914.15 L1236.44,913.91 L1236.86,913.68 L1237.28,913.46 L1237.72,913.25 L1238.17,913.05 L1238.62,912.86 L1239.09,912.68 L1239.57,912.50 L1240.05,912.34 L1240.55,912.18 L1241.06,912.04 L1241.58,911.90 L1242.10,911.76 L1242.64,911.64 L1243.19,911.52 L1243.74,911.41 L1244.31,911.31 L1244.89,911.22 L1245.48,911.13 L1246.07,911.05 L1246.68,910.97 L1247.30,910.90 L1247.93,910.83 L1248.56,910.77 L1249.21,910.72 L1249.87,910.67 L1250.54,910.62 L1251.21,910.58 L1251.90,910.54 L1252.60,910.50 M1252.60,910.50 L1252.60,924.50 M1253.26,910.50 L1254.09,923.73 L1254.65,936.95 L1255.15,950.17 L1255.60,963.40 M1255.60,963.40 L1255.60,963.09 L1255.62,962.18 L1255.64,960.70 L1255.68,958.71 L1255.72,956.28 L1255.77,953.49 L1255.84,950.45 L1255.91,947.25 L1255.99,943.99 L1256.08,940.74 L1256.18,937.58 L1256.29,934.58 L1256.41,931.77 L1256.54,929.20 L1256.68,926.88 L1256.83,924.81 L1256.99,923.00 L1257.16,921.42 L1257.34,920.05 L1257.53,918.88 L1257.72,917.88 L1257.93,917.02 L1258.15,916.29 L1258.37,915.65 L1258.61,915.09 L1258.86,914.60 L1259.11,914.15 L1259.38,913.75 L1259.65,913.37 L1259.93,913.02 L1260.23,912.69 L1260.53,912.37 L1260.84,912.06 L1261.17,911.76 L1261.50,911.48 L1261.84,911.20 L1262.19,910.93 L1262.55,910.67 L1262.93,910.41 L1263.31,910.17 L1263.70,909.93 L1264.10,909.71 L1264.51,909.49 L1264.92,909.28 L1265.35,909.08 L1265.79,908.89 L1266.24,908.70 L1266.70,908.53 L1267.16,908.36 L1267.64,908.21 L1268.13,908.06 L1268.62,907.92 L1269.13,907.78 L1269.64,907.66 L1270.17,907.54 L1270.70,907.43 L1271.25,907.33 L1271.80,907.23 L1272.37,907.14 L1272.94,907.06 L1273.52,906.98 L1274.11,906.91 L1274.72,906.84 L1275.33,906.78 L1275.95,906.72 L1276.58,906.67 L1277.22,906.62 L1277.87,906.58 L1278.53,906.54 L1279.20,906.50 M1279.20,906.50 L1279.20,920.50 M1279.84,906.50 L1280.60,919.62 L1281.12,932.75 L1281.58,945.88 L1282.00,959.00 M1282.00,959.00 L1282.00,958.68 L1282.02,957.75 L1282.04,956.24 L1282.08,954.20 L1282.12,951.71 L1282.17,948.86 L1282.23,945.75 L1282.30,942.48 L1282.38,939.14 L1282.47,935.82 L1282.57,932.59 L1282.68,929.52 L1282.79,926.65 L1282.92,924.03 L1283.06,921.66 L1283.20,919.55 L1283.36,917.70 L1283.52,916.09 L1283.69,914.70 L1283.88,913.51 L1284.07,912.49 L1284.27,911.62 L1284.48,910.88 L1284.70,910.23 L1284.93,909.67 L1285.17,909.17 L1285.42,908.73 L1285.68,908.32 L1285.95,907.94 L1286.22,907.59 L1286.51,907.26 L1286.81,906.94 L1287.11,906.63 L1287.43,906.33 L1287.75,906.04 L1288.08,905.76 L1288.43,905.49 L1288.78,905.23 L1289.14,904.98 L1289.51,904.73 L1289.89,904.49 L1290.28,904.27 L1290.68,904.04 L1291.09,903.83 L1291.51,903.63 L1291.93,903.44 L1292.37,903.25 L1292.81,903.07 L1293.27,902.91 L1293.73,902.75 L1294.21,902.60 L1294.69,902.45 L1295.19,902.32 L1295.69,902.19 L1296.20,902.07 L1296.72,901.96 L1297.25,901.85 L1297.79,901.76 L1298.34,901.66 L1298.90,901.58 L1299.47,901.50 L1300.04,901.42 L1300.63,901.35 L1301.23,901.29 L1301.83,901.23 L1302.45,901.18 L1303.07,901.13 L1303.70,901.08 L1304.35,901.04 L1305.00,901.00 M1305.00,901.00 L1305.00,915.50 M1305.66,901.00 L1306.49,914.60 L1307.05,928.20 L1307.55,941.80 L1308.00,955.40 M1308.00,955.40 L1308.00,955.08 L1308.02,954.12 L1308.04,952.56 L1308.08,950.46 L1308.12,947.91 L1308.17,944.98 L1308.23,941.78 L1308.30,938.42 L1308.38,934.99 L1308.47,931.57 L1308.57,928.26 L1308.68,925.10 L1308.79,922.16 L1308.92,919.47 L1309.06,917.04 L1309.20,914.87 L1309.36,912.98 L1309.52,911.33 L1309.69,909.91 L1309.88,908.69 L1310.07,907.66 L1310.27,906.77 L1310.48,906.01 L1310.70,905.36 L1310.93,904.79 L1311.17,904.29 L1311.42,903.83 L1311.68,903.42 L1311.95,903.04 L1312.22,902.69 L1312.51,902.35 L1312.81,902.03 L1313.11,901.72 L1313.43,901.42 L1313.75,901.13 L1314.08,900.85 L1314.43,900.58 L1314.78,900.31 L1315.14,900.06 L1315.51,899.81 L1315.89,899.57 L1316.28,899.34 L1316.68,899.12 L1317.09,898.90 L1317.51,898.70 L1317.93,898.50 L1318.37,898.31 L1318.81,898.13 L1319.27,897.96 L1319.73,897.80 L1320.21,897.64 L1320.69,897.50 L1321.19,897.36 L1321.69,897.23 L1322.20,897.11 L1322.72,896.99 L1323.25,896.88 L1323.79,896.78 L1324.34,896.69 L1324.90,896.60 L1325.47,896.52 L1326.04,896.44 L1326.63,896.37 L1327.23,896.30 L1327.83,896.24 L1328.45,896.18 L1329.07,896.13 L1329.70,896.08 L1330.35,896.04 L1331.00,896.00 M1331.00,896.00 L1331.00,910.50 M1331.60,896.00 L1332.24,909.70 L1332.67,923.40 L1333.05,937.10 L1333.40,950.80 M1333.40,950.80 L1333.40,950.47 L1333.42,949.49 L1333.44,947.91 L1333.47,945.78 L1333.51,943.18 L1333.56,940.20 L1333.62,936.95 L1333.68,933.53 L1333.76,930.04 L1333.84,926.56 L1333.93,923.19 L1334.03,919.99 L1334.14,917.00 L1334.26,914.26 L1334.39,911.80 L1334.53,909.60 L1334.67,907.68 L1334.83,906.01 L1334.99,904.57 L1335.16,903.34 L1335.34,902.29 L1335.53,901.40 L1335.73,900.64 L1335.94,899.98 L1336.16,899.41 L1336.38,898.91 L1336.61,898.46 L1336.86,898.05 L1337.11,897.67 L1337.37,897.31 L1337.64,896.98 L1337.91,896.66 L1338.20,896.35 L1338.50,896.05 L1338.80,895.77 L1339.11,895.49 L1339.43,895.21 L1339.77,894.95 L1340.10,894.69 L1340.45,894.45 L1340.81,894.21 L1341.18,893.97 L1341.55,893.75 L1341.93,893.54 L1342.33,893.33 L1342.73,893.13 L1343.14,892.94 L1343.56,892.76 L1343.98,892.59 L1344.42,892.43 L1344.87,892.27 L1345.32,892.12 L1345.78,891.99 L1346.25,891.85 L1346.73,891.73 L1347.22,891.61 L1347.72,891.50 L1348.23,891.40 L1348.74,891.30 L1349.27,891.21 L1349.80,891.13 L1350.34,891.05 L1350.90,890.98 L1351.46,890.91 L1352.02,890.85 L1352.60,890.79 L1353.19,890.74 L1353.78,890.69 L1354.39,890.64 L1355.00,890.60 M1355.00,890.60 L1355.00,905.50 M1355.62,890.60 L1356.32,904.45 L1356.80,918.30 L1357.22,932.15 L1357.60,946.00 M1357.60,946.00 L1357.60,945.67 L1357.62,944.68 L1357.64,943.08 L1357.67,940.92 L1357.71,938.30 L1357.76,935.29 L1357.81,932.00 L1357.88,928.55 L1357.95,925.02 L1358.04,921.52 L1358.13,918.11 L1358.23,914.88 L1358.34,911.86 L1358.46,909.10 L1358.58,906.61 L1358.72,904.40 L1358.86,902.46 L1359.02,900.78 L1359.18,899.34 L1359.35,898.10 L1359.53,897.05 L1359.71,896.16 L1359.91,895.40 L1360.12,894.74 L1360.33,894.17 L1360.55,893.67 L1360.78,893.22 L1361.02,892.82 L1361.27,892.44 L1361.53,892.09 L1361.80,891.76 L1362.07,891.44 L1362.36,891.14 L1362.65,890.85 L1362.95,890.56 L1363.26,890.28 L1363.58,890.01 L1363.91,889.75 L1364.24,889.50 L1364.59,889.25 L1364.94,889.02 L1365.30,888.79 L1365.68,888.56 L1366.06,888.35 L1366.44,888.15 L1366.84,887.95 L1367.25,887.76 L1367.66,887.58 L1368.09,887.41 L1368.52,887.24 L1368.96,887.09 L1369.41,886.94 L1369.87,886.80 L1370.34,886.67 L1370.81,886.54 L1371.30,886.43 L1371.79,886.32 L1372.29,886.21 L1372.80,886.11 L1373.32,886.02 L1373.85,885.94 L1374.39,885.86 L1374.93,885.79 L1375.49,885.72 L1376.05,885.65 L1376.62,885.59 L1377.21,885.54 L1377.79,885.49 L1378.39,885.44 L1379.00,885.40 M1379.00,885.40 L1379.00,900.90 M1379.60,885.40 L1380.24,899.50 L1380.67,913.60 L1381.05,927.70 L1381.40,941.80 M1381.40,941.80 L1381.40,941.46 L1381.42,940.47 L1381.44,938.86 L1381.47,936.69 L1381.51,934.04 L1381.55,931.01 L1381.61,927.71 L1381.67,924.23 L1381.74,920.67 L1381.82,917.15 L1381.91,913.72 L1382.01,910.47 L1382.12,907.43 L1382.23,904.66 L1382.36,902.15 L1382.49,899.93 L1382.63,897.99 L1382.78,896.30 L1382.93,894.85 L1383.10,893.62 L1383.27,892.57 L1383.45,891.67 L1383.65,890.91 L1383.85,890.26 L1384.05,889.70 L1384.27,889.20 L1384.49,888.76 L1384.73,888.36 L1384.97,887.99 L1385.22,887.64 L1385.48,887.32 L1385.75,887.01 L1386.02,886.71 L1386.31,886.42 L1386.60,886.14 L1386.90,885.86 L1387.21,885.60 L1387.53,885.34 L1387.86,885.09 L1388.19,884.85 L1388.54,884.61 L1388.89,884.38 L1389.25,884.16 L1389.62,883.95 L1390.00,883.75 L1390.38,883.55 L1390.78,883.37 L1391.18,883.19 L1391.59,883.02 L1392.01,882.85 L1392.44,882.70 L1392.88,882.55 L1393.32,882.41 L1393.78,882.28 L1394.24,882.15 L1394.71,882.04 L1395.19,881.92 L1395.68,881.82 L1396.18,881.72 L1396.68,881.63 L1397.20,881.55 L1397.72,881.47 L1398.25,881.39 L1398.79,881.32 L1399.33,881.26 L1399.89,881.20 L1400.46,881.14 L1401.03,881.09 L1401.61,881.04 L1402.20,881.00 M1402.20,881.00 L1402.20,896.90 M1402.78,881.00 L1403.35,895.20 L1403.74,909.40 L1404.09,923.60 L1404.40,937.80 M1404.40,937.80 L1404.40,937.46 L1404.42,936.44 L1404.44,934.80 L1404.47,932.58 L1404.51,929.88 L1404.55,926.79 L1404.61,923.42 L1404.67,919.87 L1404.74,916.25 L1404.82,912.65 L1404.91,909.16 L1405.01,905.84 L1405.11,902.75 L1405.22,899.92 L1405.35,897.37 L1405.48,895.11 L1405.61,893.13 L1405.76,891.42 L1405.92,889.95 L1406.08,888.69 L1406.25,887.63 L1406.43,886.73 L1406.62,885.96 L1406.82,885.30 L1407.03,884.73 L1407.24,884.24 L1407.46,883.79 L1407.70,883.39 L1407.94,883.02 L1408.18,882.68 L1408.44,882.35 L1408.70,882.04 L1408.98,881.74 L1409.26,881.45 L1409.55,881.17 L1409.85,880.90 L1410.16,880.64 L1410.47,880.38 L1410.79,880.13 L1411.13,879.89 L1411.47,879.65 L1411.82,879.42 L1412.17,879.20 L1412.54,878.99 L1412.91,878.79 L1413.30,878.59 L1413.69,878.40 L1414.09,878.22 L1414.49,878.05 L1414.91,877.88 L1415.33,877.73 L1415.77,877.58 L1416.21,877.44 L1416.66,877.30 L1417.12,877.18 L1417.58,877.06 L1418.06,876.94 L1418.54,876.84 L1419.03,876.74 L1419.53,876.65 L1420.04,876.56 L1420.56,876.48 L1421.09,876.40 L1421.62,876.33 L1422.16,876.26 L1422.71,876.20 L1423.27,876.15 L1423.84,876.09 L1424.42,876.04 L1425.00,876.00 M1425.00,876.00 L1425.00,891.50 M1425.60,876.00 L1426.24,890.20 L1426.67,904.40 L1427.05,918.60 L1427.40,932.80 M1427.40,932.80 L1427.40,932.46 L1427.42,931.44 L1427.44,929.79 L1427.46,927.56 L1427.50,924.85 L1427.54,921.75 L1427.60,918.37 L1427.66,914.80 L1427.72,911.17 L1427.80,907.56 L1427.88,904.05 L1427.98,900.73 L1428.08,897.63 L1428.18,894.79 L1428.30,892.24 L1428.42,889.98 L1428.56,887.99 L1428.70,886.28 L1428.84,884.81 L1429.00,883.56 L1429.16,882.50 L1429.34,881.60 L1429.52,880.84 L1429.70,880.19 L1429.90,879.62 L1430.10,879.13 L1430.32,878.70 L1430.54,878.30 L1430.76,877.94 L1431.00,877.60 L1431.24,877.28 L1431.50,876.98 L1431.76,876.68 L1432.02,876.40 L1432.30,876.12 L1432.58,875.86 L1432.88,875.60 L1433.18,875.34 L1433.48,875.10 L1433.80,874.86 L1434.12,874.63 L1434.46,874.40 L1434.80,874.19 L1435.14,873.98 L1435.50,873.78 L1435.86,873.58 L1436.24,873.39 L1436.62,873.22 L1437.00,873.05 L1437.40,872.88 L1437.80,872.73 L1438.22,872.58 L1438.64,872.44 L1439.06,872.31 L1439.50,872.18 L1439.94,872.06 L1440.40,871.95 L1440.86,871.84 L1441.32,871.74 L1441.80,871.65 L1442.28,871.56 L1442.78,871.48 L1443.28,871.40 L1443.78,871.33 L1444.30,871.27 L1444.82,871.20 L1445.36,871.15 L1445.90,871.09 L1446.44,871.05 L1447.00,871.00 M1447.00,871.00 L1447.00,886.90 M1447.54,871.00 L1447.99,885.25 L1448.29,899.50 L1448.56,913.75 L1448.80,928.00 M1448.80,928.00 L1448.80,927.65 L1448.82,926.63 L1448.84,924.96 L1448.86,922.72 L1448.90,919.98 L1448.94,916.86 L1448.99,913.44 L1449.05,909.85 L1449.12,906.19 L1449.19,902.55 L1449.27,899.02 L1449.36,895.67 L1449.46,892.55 L1449.57,889.69 L1449.68,887.12 L1449.80,884.85 L1449.93,882.86 L1450.07,881.13 L1450.21,879.66 L1450.37,878.41 L1450.53,877.34 L1450.70,876.45 L1450.87,875.69 L1451.06,875.04 L1451.25,874.48 L1451.45,873.99 L1451.66,873.55 L1451.87,873.16 L1452.10,872.80 L1452.33,872.47 L1452.57,872.15 L1452.81,871.85 L1453.07,871.56 L1453.33,871.27 L1453.60,871.00 L1453.88,870.73 L1454.16,870.47 L1454.46,870.22 L1454.76,869.97 L1455.07,869.73 L1455.39,869.49 L1455.71,869.26 L1456.05,869.04 L1456.39,868.83 L1456.73,868.62 L1457.09,868.42 L1457.46,868.23 L1457.83,868.04 L1458.21,867.86 L1458.60,867.69 L1458.99,867.53 L1459.40,867.37 L1459.81,867.22 L1460.23,867.08 L1460.65,866.95 L1461.09,866.82 L1461.53,866.69 L1461.98,866.58 L1462.44,866.47 L1462.91,866.36 L1463.38,866.27 L1463.86,866.17 L1464.35,866.09 L1464.85,866.00 L1465.36,865.92 L1465.87,865.85 L1466.39,865.78 L1466.92,865.72 L1467.46,865.66 L1468.00,865.60 M1468.00,865.60 L1468.00,881.50 M1468.60,865.60 L1469.24,879.90 L1469.67,894.20 L1470.05,908.50 L1470.40,922.80 M1470.40,922.80 L1470.40,922.45 L1470.41,921.42 L1470.43,919.74 L1470.46,917.49 L1470.49,914.74 L1470.53,911.60 L1470.58,908.17 L1470.64,904.56 L1470.70,900.88 L1470.77,897.22 L1470.85,893.68 L1470.93,890.31 L1471.03,887.18 L1471.13,884.31 L1471.24,881.73 L1471.35,879.45 L1471.47,877.46 L1471.60,875.73 L1471.74,874.26 L1471.89,873.00 L1472.04,871.95 L1472.20,871.05 L1472.36,870.29 L1472.54,869.65 L1472.72,869.09 L1472.91,868.61 L1473.11,868.18 L1473.31,867.79 L1473.52,867.44 L1473.74,867.10 L1473.97,866.79 L1474.20,866.49 L1474.44,866.20 L1474.69,865.92 L1474.95,865.65 L1475.21,865.38 L1475.48,865.12 L1475.76,864.87 L1476.05,864.62 L1476.34,864.37 L1476.64,864.14 L1476.95,863.91 L1477.27,863.68 L1477.59,863.46 L1477.92,863.25 L1478.26,863.05 L1478.60,862.85 L1478.96,862.66 L1479.32,862.47 L1479.69,862.29 L1480.06,862.12 L1480.44,861.96 L1480.83,861.80 L1481.23,861.65 L1481.64,861.50 L1482.05,861.37 L1482.47,861.23 L1482.89,861.11 L1483.33,860.99 L1483.77,860.87 L1484.22,860.77 L1484.68,860.66 L1485.14,860.56 L1485.61,860.47 L1486.09,860.38 L1486.58,860.30 L1487.07,860.22 L1487.57,860.14 L1488.08,860.07 L1488.60,860.00 M1488.60,860.00 L1488.60,876.50 M1489.16,860.00 L1489.67,874.50 L1490.02,889.00 L1490.32,903.50 L1490.60,918.00 M1490.60,918.00 L1490.60,917.64 L1490.62,916.59 L1490.63,914.89 L1490.66,912.59 L1490.69,909.80 L1490.74,906.60 L1490.78,903.11 L1490.84,899.43 L1490.90,895.69 L1490.98,891.97 L1491.05,888.36 L1491.14,884.94 L1491.23,881.75 L1491.34,878.84 L1491.44,876.22 L1491.56,873.90 L1491.69,871.88 L1491.82,870.13 L1491.96,868.63 L1492.10,867.36 L1492.26,866.29 L1492.42,865.39 L1492.59,864.63 L1492.76,863.98 L1492.95,863.42 L1493.14,862.93 L1493.34,862.50 L1493.54,862.11 L1493.76,861.76 L1493.98,861.43 L1494.21,861.11 L1494.45,860.81 L1494.69,860.52 L1494.94,860.24 L1495.20,859.96 L1495.47,859.69 L1495.74,859.43 L1496.02,859.17 L1496.31,858.92 L1496.61,858.67 L1496.91,858.43 L1497.22,858.19 L1497.54,857.96 L1497.87,857.74 L1498.20,857.52 L1498.55,857.31 L1498.90,857.10 L1499.25,856.90 L1499.62,856.71 L1499.99,856.52 L1500.37,856.34 L1500.75,856.17 L1501.15,856.00 L1501.55,855.84 L1501.96,855.68 L1502.38,855.53 L1502.80,855.39 L1503.23,855.25 L1503.67,855.12 L1504.12,855.00 L1504.57,854.88 L1505.03,854.76 L1505.50,854.65 L1505.98,854.54 L1506.47,854.44 L1506.96,854.35 L1507.46,854.25 L1507.96,854.17 L1508.48,854.08 L1509.00,854.00 M1509.00,854.00 L1509.00,870.90 M1509.60,854.00 L1510.24,868.70 L1510.67,883.40 L1511.05,898.10 L1511.40,912.80 M1511.40,912.80 L1511.40,912.44 L1511.41,911.38 L1511.43,909.65 L1511.46,907.33 L1511.49,904.50 L1511.53,901.27 L1511.58,897.74 L1511.63,894.02 L1511.69,890.23 L1511.76,886.47 L1511.83,882.83 L1511.92,879.37 L1512.01,876.15 L1512.10,873.21 L1512.21,870.56 L1512.32,868.22 L1512.44,866.18 L1512.56,864.42 L1512.70,862.91 L1512.84,861.64 L1512.98,860.56 L1513.14,859.65 L1513.30,858.89 L1513.47,858.24 L1513.64,857.68 L1513.83,857.20 L1514.02,856.77 L1514.22,856.38 L1514.42,856.03 L1514.63,855.70 L1514.85,855.38 L1515.08,855.08 L1515.31,854.79 L1515.55,854.51 L1515.80,854.24 L1516.06,853.97 L1516.32,853.70 L1516.59,853.44 L1516.86,853.19 L1517.15,852.94 L1517.44,852.69 L1517.74,852.45 L1518.04,852.22 L1518.35,851.99 L1518.67,851.76 L1519.00,851.54 L1519.33,851.33 L1519.68,851.13 L1520.02,850.92 L1520.38,850.73 L1520.74,850.54 L1521.11,850.36 L1521.49,850.18 L1521.87,850.01 L1522.27,849.85 L1522.66,849.69 L1523.07,849.54 L1523.48,849.39 L1523.90,849.25 L1524.33,849.11 L1524.77,848.98 L1525.21,848.85 L1525.66,848.73 L1526.11,848.62 L1526.58,848.50 L1527.05,848.39 L1527.52,848.29 L1528.01,848.19 L1528.50,848.09 L1529.00,848.00 M1529.00,848.00 L1529.00,864.90 M1529.52,848.00 L1529.90,862.75 L1530.16,877.50 L1530.39,892.25 L1530.60,907.00 M1530.60,907.00 L1530.60,906.63 L1530.61,905.55 L1530.63,903.80 L1530.66,901.44 L1530.69,898.56 L1530.73,895.26 L1530.78,891.67 L1530.83,887.89 L1530.89,884.04 L1530.96,880.21 L1531.03,876.51 L1531.12,872.99 L1531.21,869.72 L1531.30,866.73 L1531.41,864.04 L1531.52,861.67 L1531.64,859.60 L1531.76,857.81 L1531.90,856.28 L1532.04,854.99 L1532.18,853.90 L1532.34,852.99 L1532.50,852.21 L1532.67,851.56 L1532.84,851.00 L1533.03,850.51 L1533.22,850.08 L1533.42,849.69 L1533.62,849.34 L1533.83,849.01 L1534.05,848.70 L1534.28,848.40 L1534.51,848.11 L1534.75,847.82 L1535.00,847.55 L1535.26,847.27 L1535.52,847.01 L1535.79,846.74 L1536.06,846.48 L1536.35,846.23 L1536.64,845.98 L1536.94,845.73 L1537.24,845.49 L1537.55,845.26 L1537.87,845.03 L1538.20,844.80 L1538.53,844.58 L1538.88,844.37 L1539.22,844.16 L1539.58,843.96 L1539.94,843.76 L1540.31,843.57 L1540.69,843.38 L1541.07,843.20 L1541.47,843.03 L1541.86,842.86 L1542.27,842.70 L1542.68,842.54 L1543.10,842.38 L1543.53,842.24 L1543.97,842.09 L1544.41,841.95 L1544.86,841.82 L1545.31,841.69 L1545.78,841.57 L1546.25,841.45 L1546.72,841.33 L1547.21,841.22 L1547.70,841.11 L1548.20,841.00 M1548.20,841.00 L1548.20,858.90 M1548.78,841.00 L1549.35,855.85 L1549.74,870.70 L1550.09,885.55 L1550.40,900.40 M1550.40,900.40 L1550.40,900.03 L1550.41,898.94 L1550.43,897.16 L1550.45,894.77 L1550.48,891.86 L1550.52,888.53 L1550.57,884.90 L1550.62,881.08 L1550.67,877.18 L1550.74,873.32 L1550.81,869.57 L1550.89,866.02 L1550.97,862.71 L1551.06,859.69 L1551.16,856.98 L1551.27,854.59 L1551.38,852.49 L1551.50,850.69 L1551.62,849.16 L1551.76,847.86 L1551.89,846.76 L1552.04,845.84 L1552.19,845.07 L1552.35,844.41 L1552.52,843.85 L1552.69,843.37 L1552.87,842.94 L1553.06,842.55 L1553.25,842.20 L1553.45,841.87 L1553.66,841.56 L1553.87,841.26 L1554.09,840.97 L1554.32,840.69 L1554.55,840.41 L1554.79,840.14 L1555.04,839.87 L1555.29,839.60 L1555.55,839.34 L1555.82,839.09 L1556.09,838.83 L1556.38,838.58 L1556.66,838.34 L1556.96,838.10 L1557.26,837.86 L1557.57,837.63 L1557.88,837.41 L1558.21,837.19 L1558.53,836.97 L1558.87,836.76 L1559.21,836.56 L1559.56,836.36 L1559.92,836.17 L1560.28,835.98 L1560.65,835.79 L1561.02,835.62 L1561.41,835.44 L1561.80,835.27 L1562.19,835.11 L1562.60,834.95 L1563.01,834.80 L1563.42,834.65 L1563.85,834.50 L1564.28,834.36 L1564.71,834.23 L1565.16,834.09 L1565.61,833.97 L1566.06,833.84 L1566.53,833.72 L1567.00,833.60 M1567.00,833.60 L1567.00,851.90 M1567.56,833.60 L1568.07,848.55 L1568.42,863.50 L1568.72,878.45 L1569.00,893.40 M1569.00,893.40 L1569.00,893.03 L1569.01,891.92 L1569.03,890.13 L1569.05,887.73 L1569.08,884.79 L1569.12,881.44 L1569.16,877.77 L1569.21,873.92 L1569.27,870.00 L1569.33,866.10 L1569.40,862.33 L1569.48,858.75 L1569.56,855.42 L1569.65,852.38 L1569.75,849.65 L1569.85,847.24 L1569.96,845.13 L1570.08,843.32 L1570.20,841.78 L1570.33,840.48 L1570.47,839.38 L1570.61,838.46 L1570.76,837.68 L1570.92,837.03 L1571.08,836.47 L1571.25,835.99 L1571.43,835.56 L1571.61,835.18 L1571.80,834.83 L1571.99,834.50 L1572.20,834.19 L1572.41,833.89 L1572.62,833.61 L1572.85,833.32 L1573.08,833.05 L1573.31,832.78 L1573.55,832.51 L1573.80,832.24 L1574.06,831.98 L1574.32,831.72 L1574.59,831.47 L1574.87,831.22 L1575.15,830.97 L1575.44,830.73 L1575.74,830.49 L1576.04,830.25 L1576.35,830.02 L1576.66,829.80 L1576.99,829.57 L1577.32,829.36 L1577.65,829.15 L1577.99,828.94 L1578.34,828.74 L1578.70,828.54 L1579.06,828.35 L1579.43,828.16 L1579.81,827.98 L1580.19,827.80 L1580.58,827.63 L1580.98,827.46 L1581.38,827.30 L1581.79,827.14 L1582.20,826.98 L1582.63,826.83 L1583.05,826.69 L1583.49,826.54 L1583.93,826.40 L1584.38,826.26 L1584.84,826.13 L1585.30,826.00 M1585.30,826.00 L1585.30,844.50 M1585.89,826.00 L1586.49,840.85 L1586.91,855.70 L1587.27,870.55 L1587.60,885.40 M1587.60,885.40 L1587.60,885.02 L1587.61,883.89 L1587.63,882.06 L1587.65,879.60 L1587.68,876.61 L1587.72,873.18 L1587.76,869.44 L1587.81,865.51 L1587.87,861.50 L1587.93,857.52 L1588.00,853.67 L1588.08,850.01 L1588.17,846.61 L1588.26,843.51 L1588.35,840.73 L1588.46,838.27 L1588.57,836.13 L1588.68,834.28 L1588.81,832.71 L1588.94,831.39 L1589.08,830.27 L1589.22,829.34 L1589.37,828.55 L1589.53,827.89 L1589.69,827.33 L1589.86,826.84 L1590.04,826.41 L1590.22,826.02 L1590.41,825.67 L1590.61,825.34 L1590.82,825.03 L1591.03,824.73 L1591.24,824.44 L1591.47,824.16 L1591.70,823.88 L1591.94,823.60 L1592.18,823.33 L1592.43,823.06 L1592.69,822.80 L1592.96,822.53 L1593.23,822.27 L1593.50,822.02 L1593.79,821.76 L1594.08,821.51 L1594.38,821.27 L1594.68,821.02 L1594.99,820.79 L1595.31,820.55 L1595.64,820.32 L1595.97,820.10 L1596.31,819.88 L1596.65,819.66 L1597.00,819.45 L1597.36,819.24 L1597.72,819.04 L1598.10,818.84 L1598.47,818.65 L1598.86,818.46 L1599.25,818.27 L1599.65,818.09 L1600.05,817.92 L1600.47,817.75 L1600.88,817.58 L1601.31,817.41 L1601.74,817.25 L1602.18,817.10 L1602.62,816.94 L1603.08,816.79 L1603.53,816.64 L1604.00,816.50 M1604.00,816.50 L1604.00,837.50 M1604.51,816.50 L1604.86,831.65 L1605.10,846.80 L1605.31,861.95 L1605.50,877.10 M1605.50,877.10 L1605.50,876.72 L1605.51,875.58 L1605.53,873.74 L1605.55,871.27 L1605.58,868.25 L1605.61,864.80 L1605.65,861.04 L1605.70,857.08 L1605.75,853.04 L1605.81,849.04 L1605.88,845.16 L1605.95,841.49 L1606.03,838.07 L1606.12,834.95 L1606.21,832.16 L1606.30,829.69 L1606.41,827.53 L1606.52,825.68 L1606.63,824.11 L1606.76,822.78 L1606.89,821.66 L1607.02,820.73 L1607.16,819.94 L1607.31,819.28 L1607.46,818.72 L1607.62,818.24 L1607.79,817.81 L1607.96,817.43 L1608.14,817.08 L1608.33,816.75 L1608.52,816.44 L1608.72,816.15 L1608.92,815.86 L1609.13,815.57 L1609.35,815.30 L1609.57,815.02 L1609.80,814.75 L1610.04,814.48 L1610.28,814.22 L1610.53,813.95 L1610.78,813.69 L1611.04,813.43 L1611.31,813.18 L1611.58,812.92 L1611.86,812.67 L1612.15,812.43 L1612.44,812.19 L1612.74,811.95 L1613.05,811.71 L1613.36,811.48 L1613.67,811.26 L1614.00,811.03 L1614.33,810.82 L1614.66,810.60 L1615.01,810.39 L1615.36,810.19 L1615.71,809.98 L1616.07,809.79 L1616.44,809.59 L1616.81,809.40 L1617.19,809.22 L1617.58,809.03 L1617.97,808.86 L1618.37,808.68 L1618.78,808.51 L1619.19,808.34 L1619.61,808.18 L1620.03,808.02 L1620.46,807.86 L1620.90,807.70 M1620.90,807.70 L1620.90,828.50 M1621.49,807.70 L1622.09,822.88 L1622.51,838.05 L1622.87,853.23 L1623.20,868.40 M1623.20,868.40 L1623.20,868.01 L1623.21,866.85 L1623.23,864.97 L1623.25,862.44 L1623.28,859.36 L1623.32,855.84 L1623.36,852.00 L1623.41,847.96 L1623.46,843.84 L1623.52,839.76 L1623.59,835.80 L1623.67,832.05 L1623.75,828.57 L1623.84,825.39 L1623.93,822.54 L1624.03,820.02 L1624.14,817.82 L1624.25,815.94 L1624.37,814.34 L1624.50,812.98 L1624.63,811.85 L1624.77,810.90 L1624.92,810.11 L1625.07,809.44 L1625.23,808.87 L1625.39,808.38 L1625.57,807.95 L1625.74,807.57 L1625.93,807.22 L1626.12,806.89 L1626.32,806.58 L1626.52,806.28 L1626.73,805.99 L1626.95,805.70 L1627.17,805.42 L1627.41,805.15 L1627.64,804.87 L1627.89,804.60 L1628.14,804.33 L1628.39,804.06 L1628.65,803.79 L1628.92,803.53 L1629.20,803.27 L1629.48,803.01 L1629.77,802.75 L1630.07,802.50 L1630.37,802.25 L1630.68,802.00 L1630.99,801.76 L1631.31,801.52 L1631.64,801.29 L1631.97,801.05 L1632.31,800.83 L1632.66,800.60 L1633.02,800.38 L1633.38,800.16 L1633.74,799.95 L1634.12,799.74 L1634.50,799.54 L1634.88,799.34 L1635.27,799.14 L1635.67,798.94 L1636.08,798.75 L1636.49,798.56 L1636.91,798.38 L1637.33,798.20 L1637.77,798.02 L1638.20,797.84 L1638.65,797.67 L1639.10,797.50 M1639.10,797.50 L1639.10,818.50 M1639.60,797.50 L1639.92,812.69 L1640.14,827.88 L1640.33,843.06 L1640.50,858.25 M1640.50,858.25 L1640.50,857.86 L1640.51,856.70 L1640.53,854.81 L1640.55,852.28 L1640.58,849.20 L1640.62,845.67 L1640.66,841.81 L1640.71,837.76 L1640.76,833.64 L1640.82,829.54 L1640.89,825.57 L1640.97,821.80 L1641.05,818.30 L1641.13,815.11 L1641.23,812.24 L1641.33,809.71 L1641.43,807.50 L1641.55,805.60 L1641.67,803.97 L1641.79,802.60 L1641.93,801.45 L1642.07,800.48 L1642.21,799.66 L1642.36,798.97 L1642.52,798.38 L1642.69,797.87 L1642.86,797.41 L1643.04,797.00 L1643.22,796.62 L1643.41,796.27 L1643.61,795.93 L1643.81,795.60 L1644.02,795.28 L1644.24,794.96 L1644.46,794.65 L1644.69,794.34 L1644.93,794.03 L1645.17,793.73 L1645.42,793.42 L1645.68,793.11 L1645.94,792.81 L1646.21,792.51 L1646.48,792.20 L1646.76,791.90 L1647.05,791.61 L1647.34,791.31 L1647.65,791.02 L1647.95,790.73 L1648.27,790.44 L1648.59,790.15 L1648.91,789.87 L1649.25,789.59 L1649.59,789.31 L1649.93,789.04 L1650.28,788.76 L1650.64,788.50 L1651.01,788.23 L1651.38,787.97 L1651.76,787.71 L1652.14,787.45 L1652.54,787.19 L1652.93,786.94 L1653.34,786.69 L1653.75,786.44 L1654.17,786.20 L1654.59,785.95 L1655.02,785.71 L1655.46,785.47 L1655.90,785.24 L1656.35,785.00 M1656.35,785.00 L1656.35,808.50 M1656.88,785.00 L1657.27,800.00 L1657.54,815.00 L1657.78,830.00 L1658.00,845.00 M1658.00,845.00 L1658.00,844.60 L1658.01,843.41 L1658.03,841.48 L1658.05,838.88 L1658.08,835.72 L1658.11,832.10 L1658.15,828.15 L1658.20,823.99 L1658.25,819.76 L1658.31,815.55 L1658.38,811.48 L1658.45,807.61 L1658.53,804.02 L1658.61,800.73 L1658.70,797.78 L1658.80,795.17 L1658.91,792.89 L1659.01,790.92 L1659.13,789.25 L1659.25,787.82 L1659.38,786.62 L1659.52,785.61 L1659.66,784.75 L1659.80,784.02 L1659.96,783.39 L1660.12,782.84 L1660.28,782.34 L1660.46,781.89 L1660.63,781.48 L1660.82,781.08 L1661.01,780.71 L1661.21,780.34 L1661.41,779.98 L1661.62,779.62 L1661.84,779.26 L1662.06,778.91 L1662.29,778.56 L1662.52,778.20 L1662.76,777.85 L1663.01,777.50 L1663.27,777.14 L1663.53,776.79 L1663.79,776.44 L1664.06,776.09 L1664.34,775.74 L1664.63,775.39 L1664.92,775.04 L1665.22,774.69 L1665.52,774.35 L1665.83,774.01 L1666.15,773.66 L1666.47,773.33 L1666.80,772.99 L1667.13,772.65 L1667.48,772.32 L1667.82,771.99 L1668.18,771.65 L1668.54,771.33 L1668.90,771.00 L1669.28,770.67 L1669.66,770.35 L1670.04,770.03 L1670.43,769.71 L1670.83,769.39 L1671.24,769.07 L1671.65,768.76 L1672.06,768.44 L1672.49,768.13 L1672.91,767.81 L1673.35,767.50 M1673.35,767.50 L1673.35,794.50 M1673.88,767.50 L1674.27,782.75 L1674.54,798.00 L1674.78,813.25 L1675.00,828.50 M1675.00,828.50 L1675.00,828.07 L1675.01,826.82 L1675.03,824.77 L1675.05,822.02 L1675.08,818.67 L1675.11,814.84 L1675.15,810.66 L1675.20,806.26 L1675.25,801.77 L1675.31,797.31 L1675.37,792.99 L1675.44,788.89 L1675.52,785.08 L1675.60,781.59 L1675.69,778.46 L1675.79,775.68 L1675.89,773.25 L1676.00,771.15 L1676.11,769.36 L1676.23,767.83 L1676.36,766.54 L1676.49,765.44 L1676.63,764.51 L1676.78,763.71 L1676.93,763.01 L1677.08,762.40 L1677.25,761.85 L1677.42,761.35 L1677.59,760.87 L1677.77,760.42 L1677.96,759.99 L1678.16,759.56 L1678.36,759.14 L1678.56,758.73 L1678.78,758.31 L1678.99,757.90 L1679.22,757.48 L1679.45,757.07 L1679.69,756.65 L1679.93,756.23 L1680.18,755.81 L1680.44,755.39 L1680.70,754.97 L1680.97,754.55 L1681.24,754.12 L1681.52,753.70 L1681.81,753.28 L1682.10,752.86 L1682.40,752.44 L1682.70,752.02 L1683.02,751.60 L1683.33,751.18 L1683.66,750.76 L1683.99,750.35 L1684.32,749.93 L1684.66,749.51 L1685.01,749.10 L1685.37,748.69 L1685.73,748.27 L1686.09,747.86 L1686.47,747.45 L1686.85,747.04 L1687.23,746.63 L1687.62,746.22 L1688.02,745.81 L1688.42,745.39 L1688.83,744.98 L1689.25,744.57 L1689.67,744.16 L1690.10,743.75 M1690.10,743.75 L1690.10,774.50 M1690.62,743.75 L1691.02,759.56 L1691.29,775.38 L1691.53,791.19 L1691.75,807.00 M1691.75,807.00 L1691.75,806.54 L1691.76,805.18 L1691.78,802.98 L1691.80,800.02 L1691.83,796.40 L1691.87,792.27 L1691.91,787.76 L1691.96,783.01 L1692.01,778.17 L1692.07,773.36 L1692.14,768.70 L1692.21,764.27 L1692.29,760.14 L1692.38,756.37 L1692.47,752.98 L1692.57,749.97 L1692.68,747.33 L1692.79,745.05 L1692.91,743.09 L1693.04,741.42 L1693.17,740.00 L1693.31,738.79 L1693.45,737.76 L1693.60,736.87 L1693.76,736.09 L1693.92,735.40 L1694.09,734.77 L1694.27,734.19 L1694.45,733.64 L1694.64,733.12 L1694.84,732.61 L1695.04,732.11 L1695.25,731.61 L1695.47,731.12 L1695.69,730.63 L1695.92,730.14 L1696.15,729.64 L1696.39,729.14 L1696.64,728.64 L1696.89,728.14 L1697.15,727.63 L1697.42,727.12 L1697.69,726.61 L1697.97,726.10 L1698.26,725.59 L1698.55,725.08 L1698.85,724.56 L1699.16,724.04 L1699.47,723.53 L1699.79,723.01 L1700.11,722.49 L1700.44,721.97 L1700.78,721.45 L1701.12,720.93 L1701.47,720.41 L1701.83,719.89 L1702.19,719.37 L1702.56,718.84 L1702.94,718.32 L1703.32,717.80 L1703.71,717.27 L1704.11,716.75 L1704.51,716.22 L1704.92,715.69 L1705.33,715.16 L1705.75,714.63 L1706.18,714.10 L1706.61,713.57 L1707.05,713.04 L1707.50,712.50 M1707.50,712.50 L1707.50,742.50 M1708.12,712.50 L1708.82,727.38 L1709.30,742.25 L1709.72,757.12 L1710.10,772.00 M1710.10,772.00 L1710.14,765.29 L1710.21,753.38 L1710.32,740.24 L1710.44,727.98 L1710.59,717.61 L1710.76,709.44 L1710.94,703.32 L1711.14,698.89 L1711.36,695.73 L1711.59,693.44 L1711.84,691.71 L1712.10,690.33 L1712.37,689.14 L1712.65,688.03 L1712.95,686.96 L1713.26,685.89 L1713.58,684.79 L1713.92,683.67 L1714.26,682.52 L1714.62,681.33 L1714.99,680.10 L1715.36,678.84 L1715.75,677.55 L1716.15,676.22 L1716.56,674.86 L1716.98,673.46 L1717.40,672.03 L1717.84,670.57 L1718.29,669.08 L1718.75,667.56 L1719.21,666.01 L1719.69,664.42 L1720.17,662.81 L1720.66,661.16 L1721.16,659.49 L1721.67,657.79 L1722.19,656.06 L1722.72,654.30 L1723.26,652.51 L1723.80,650.70" stroke-width="5.2"/>
<path d="M319.60,1033.00 L320.80,1030.00 L321.50,1012.40 L321.60,1050.30 L325.00,1053.30 M363.00,1034.20 L363.40,958.40 L363.97,1015.75 L365.25,1024.16 L366.54,1032.58 L367.82,1040.99 L369.10,1049.40 M411.10,1025.20 L411.50,934.80 L412.02,1007.00 L413.19,1016.27 L414.36,1025.55 L415.53,1034.82 L416.70,1044.10 M461.00,1017.60 L461.40,914.65 L461.92,1000.00 L463.09,1009.73 L464.26,1019.45 L465.43,1029.18 L466.60,1038.90 M512.20,1009.70 L512.60,899.25 L513.09,993.90 L514.19,1004.05 L515.29,1014.20 L516.40,1024.35 L517.50,1034.50 M564.10,1002.95 L564.50,886.65 L564.92,987.50 L565.88,998.00 L566.84,1008.50 L567.79,1019.00 L568.75,1029.50 M613.85,997.20 L614.25,874.15 L614.83,982.00 L616.12,992.94 L617.41,1003.88 L618.71,1014.81 L620.00,1025.75 M663.85,992.20 L664.25,864.15 L664.75,977.50 L665.88,988.50 L667.00,999.50 L668.12,1010.50 L669.25,1021.50 M711.60,986.70 L712.00,854.90 L712.48,972.50 L713.54,983.81 L714.61,995.12 L715.68,1006.44 L716.75,1017.75 M757.85,982.20 L758.25,846.65 L758.80,967.00 L760.04,978.75 L761.27,990.50 L762.51,1002.25 L763.75,1014.00" stroke-width="3.5"/>
<path d="M319.60,1033.00 L320.80,1030.00 L321.50,1012.40 L321.60,1050.30 L325.00,1053.30 M363.00,1034.20 L363.40,958.40 L363.97,1015.75 L365.25,1024.16 L366.54,1032.58 L367.82,1040.99 L369.10,1049.40 M411.10,1025.20 L411.50,934.80 L412.02,1007.00 L413.19,1016.27 L414.36,1025.55 L415.53,1034.82 L416.70,1044.10 M461.00,1017.60 L461.40,914.65 L461.92,1000.00 L463.09,1009.73 L464.26,1019.45 L465.43,1029.18 L466.60,1038.90 M512.20,1009.70 L512.60,899.25 L513.09,993.90 L514.19,1004.05 L515.29,1014.20 L516.40,1024.35 L517.50,1034.50 M564.10,1002.95 L564.50,886.65 L564.92,987.50 L565.88,998.00 L566.84,1008.50 L567.79,1019.00 L568.75,1029.50 M613.85,997.20 L614.25,874.15 L614.83,982.00 L616.12,992.94 L617.41,1003.88 L618.71,1014.81 L620.00,1025.75 M663.85,992.20 L664.25,864.15 L664.75,977.50 L665.88,988.50 L667.00,999.50 L668.12,1010.50 L669.25,1021.50 M711.60,986.70 L712.00,854.90 L712.48,972.50 L713.54,983.81 L714.61,995.12 L715.68,1006.44 L716.75,1017.75 M757.85,982.20 L758.25,846.65 L758.80,967.00 L760.04,978.75 L761.27,990.50 L762.51,1002.25 L763.75,1014.00" stroke-width="4.9" stroke-dasharray="0.01 4.9"/>
<path d="M802.85,976.70 L803.25,838.30 L803.67,964.80 L805.03,975.97 L805.95,987.15 L806.76,998.33 L807.50,1009.50 M845.85,972.70 L846.25,830.80 L846.73,960.80 L848.24,971.97 L849.27,983.15 L850.17,994.33 L851.00,1005.50 M887.85,968.70 L888.25,823.80 L888.62,956.80 L889.82,968.22 L890.63,979.65 L891.35,991.08 L892.00,1002.50 M927.10,965.20 L927.50,816.80 L927.90,952.80 L929.17,964.35 L930.04,975.90 L930.80,987.45 L931.50,999.00 M965.10,961.20 L965.50,810.30 L965.85,948.80 L966.96,960.35 L967.72,971.90 L968.39,983.45 L969.00,995.00 M1002.10,957.20 L1002.50,803.30 L1002.80,944.30 L1003.75,956.22 L1004.41,968.15 L1004.98,980.08 L1005.50,992.00 M1037.85,953.20 L1038.25,796.55 L1038.58,940.55 L1039.61,952.47 L1040.31,964.40 L1040.93,976.33 L1041.50,988.25 M1071.60,949.20 L1072.00,789.55 L1072.30,936.05 L1073.25,948.29 L1073.91,960.52 L1074.48,972.76 L1075.00,985.00 M1104.10,945.20 L1104.50,782.55 L1104.80,932.30 L1105.75,944.41 L1106.41,956.52 L1106.98,968.64 L1107.50,980.75 M1135.85,941.20 L1136.25,776.30 L1136.56,928.05 L1137.53,940.60 L1138.19,953.15 L1138.77,965.70 L1139.30,978.25 M1166.60,937.20 L1167.00,770.80 L1167.30,923.80 L1168.25,936.47 L1168.91,949.15 L1169.48,961.83 L1170.00,974.50 M1195.85,933.20 L1196.25,763.80 L1196.53,920.05 L1197.40,932.72 L1198.00,945.40 L1198.52,958.08 L1199.00,970.75 M1225.10,929.20 L1225.50,757.05 L1225.75,915.55 L1226.55,928.41 L1227.09,941.27 L1227.56,954.14 L1228.00,967.00 M1252.60,924.50 L1253.00,750.70 L1253.26,910.50 L1254.09,923.73 L1254.65,936.95 L1255.15,950.17 L1255.60,963.40 M1279.20,920.50 L1279.60,743.90 L1279.84,906.50 L1280.60,919.62 L1281.12,932.75 L1281.58,945.88 L1282.00,959.00 M1305.00,915.50 L1305.40,736.90 L1305.66,901.00 L1306.49,914.60 L1307.05,928.20 L1307.55,941.80 L1308.00,955.40 M1331.00,910.50 L1331.40,729.90 L1331.60,896.00 L1332.24,909.70 L1332.67,923.40 L1333.05,937.10 L1333.40,950.80" stroke-width="3.3"/>
<path d="M802.85,976.70 L803.25,838.30 L803.67,964.80 L805.03,975.97 L805.95,987.15 L806.76,998.33 L807.50,1009.50 M845.85,972.70 L846.25,830.80 L846.73,960.80 L848.24,971.97 L849.27,983.15 L850.17,994.33 L851.00,1005.50 M887.85,968.70 L888.25,823.80 L888.62,956.80 L889.82,968.22 L890.63,979.65 L891.35,991.08 L892.00,1002.50 M927.10,965.20 L927.50,816.80 L927.90,952.80 L929.17,964.35 L930.04,975.90 L930.80,987.45 L931.50,999.00 M965.10,961.20 L965.50,810.30 L965.85,948.80 L966.96,960.35 L967.72,971.90 L968.39,983.45 L969.00,995.00 M1002.10,957.20 L1002.50,803.30 L1002.80,944.30 L1003.75,956.22 L1004.41,968.15 L1004.98,980.08 L1005.50,992.00 M1037.85,953.20 L1038.25,796.55 L1038.58,940.55 L1039.61,952.47 L1040.31,964.40 L1040.93,976.33 L1041.50,988.25 M1071.60,949.20 L1072.00,789.55 L1072.30,936.05 L1073.25,948.29 L1073.91,960.52 L1074.48,972.76 L1075.00,985.00 M1104.10,945.20 L1104.50,782.55 L1104.80,932.30 L1105.75,944.41 L1106.41,956.52 L1106.98,968.64 L1107.50,980.75 M1135.85,941.20 L1136.25,776.30 L1136.56,928.05 L1137.53,940.60 L1138.19,953.15 L1138.77,965.70 L1139.30,978.25 M1166.60,937.20 L1167.00,770.80 L1167.30,923.80 L1168.25,936.47 L1168.91,949.15 L1169.48,961.83 L1170.00,974.50 M1195.85,933.20 L1196.25,763.80 L1196.53,920.05 L1197.40,932.72 L1198.00,945.40 L1198.52,958.08 L1199.00,970.75 M1225.10,929.20 L1225.50,757.05 L1225.75,915.55 L1226.55,928.41 L1227.09,941.27 L1227.56,954.14 L1228.00,967.00 M1252.60,924.50 L1253.00,750.70 L1253.26,910.50 L1254.09,923.73 L1254.65,936.95 L1255.15,950.17 L1255.60,963.40 M1279.20,920.50 L1279.60,743.90 L1279.84,906.50 L1280.60,919.62 L1281.12,932.75 L1281.58,945.88 L1282.00,959.00 M1305.00,915.50 L1305.40,736.90 L1305.66,901.00 L1306.49,914.60 L1307.05,928.20 L1307.55,941.80 L1308.00,955.40 M1331.00,910.50 L1331.40,729.90 L1331.60,896.00 L1332.24,909.70 L1332.67,923.40 L1333.05,937.10 L1333.40,950.80" stroke-width="4.9" stroke-dasharray="0.01 5.8"/>
<path d="M1355.00,905.50 L1355.40,720.90 L1355.62,890.60 L1356.32,904.45 L1356.80,918.30 L1357.22,932.15 L1357.60,946.00 M1379.00,900.90 L1379.40,711.90 L1379.60,885.40 L1380.24,899.50 L1380.67,913.60 L1381.05,927.70 L1381.40,941.80 M1402.20,896.90 L1402.60,703.90 L1402.78,881.00 L1403.35,895.20 L1403.74,909.40 L1404.09,923.60 L1404.40,937.80 M1425.00,891.50 L1425.40,695.90 L1425.60,876.00 L1426.24,890.20 L1426.67,904.40 L1427.05,918.60 L1427.40,932.80 M1447.00,886.90 L1447.40,686.90 L1447.54,871.00 L1447.99,885.25 L1448.29,899.50 L1448.56,913.75 L1448.80,928.00 M1468.00,881.50 L1468.40,677.90 L1468.60,865.60 L1469.24,879.90 L1469.67,894.20 L1470.05,908.50 L1470.40,922.80 M1488.60,876.50 L1489.00,668.30 L1489.16,860.00 L1489.67,874.50 L1490.02,889.00 L1490.32,903.50 L1490.60,918.00 M1509.00,870.90 L1509.40,658.30 L1509.60,854.00 L1510.24,868.70 L1510.67,883.40 L1511.05,898.10 L1511.40,912.80 M1529.00,864.90 L1529.40,646.90 L1529.52,848.00 L1529.90,862.75 L1530.16,877.50 L1530.39,892.25 L1530.60,907.00 M1548.20,858.90 L1548.60,634.90 L1548.78,841.00 L1549.35,855.85 L1549.74,870.70 L1550.09,885.55 L1550.40,900.40 M1567.00,851.90 L1567.40,621.70 L1567.56,833.60 L1568.07,848.55 L1568.42,863.50 L1568.72,878.45 L1569.00,893.40 M1585.30,844.50 L1585.70,604.30 L1585.89,826.00 L1586.49,840.85 L1586.91,855.70 L1587.27,870.55 L1587.60,885.40 M1604.00,837.50 L1604.40,588.10 L1604.51,816.50 L1604.86,831.65 L1605.10,846.80 L1605.31,861.95 L1605.50,877.10 M1620.90,828.50 L1621.30,568.90 L1621.49,807.70 L1622.09,822.88 L1622.51,838.05 L1622.87,853.23 L1623.20,868.40 M1639.10,818.50 L1639.50,546.80 L1639.60,797.50 L1639.92,812.69 L1640.14,827.88 L1640.33,843.06 L1640.50,858.25 M1656.35,808.50 L1656.75,517.80 L1656.88,785.00 L1657.27,800.00 L1657.54,815.00 L1657.78,830.00 L1658.00,845.00 M1673.35,794.50 L1673.75,481.30 L1673.88,767.50 L1674.27,782.75 L1674.54,798.00 L1674.78,813.25 L1675.00,828.50 M1690.10,774.50 L1690.50,426.80 L1690.62,743.75 L1691.02,759.56 L1691.29,775.38 L1691.53,791.19 L1691.75,807.00 M1707.50,742.50 L1707.90,346.30 L1708.12,712.50 L1708.82,727.38 L1709.30,742.25 L1709.72,757.12 L1710.10,772.00 M1723.80,650.70 L1724.70,219.00 L1725.30,655.00" stroke-width="3.0"/>
<path d="M1355.00,905.50 L1355.40,720.90 L1355.62,890.60 L1356.32,904.45 L1356.80,918.30 L1357.22,932.15 L1357.60,946.00 M1379.00,900.90 L1379.40,711.90 L1379.60,885.40 L1380.24,899.50 L1380.67,913.60 L1381.05,927.70 L1381.40,941.80 M1402.20,896.90 L1402.60,703.90 L1402.78,881.00 L1403.35,895.20 L1403.74,909.40 L1404.09,923.60 L1404.40,937.80 M1425.00,891.50 L1425.40,695.90 L1425.60,876.00 L1426.24,890.20 L1426.67,904.40 L1427.05,918.60 L1427.40,932.80 M1447.00,886.90 L1447.40,686.90 L1447.54,871.00 L1447.99,885.25 L1448.29,899.50 L1448.56,913.75 L1448.80,928.00 M1468.00,881.50 L1468.40,677.90 L1468.60,865.60 L1469.24,879.90 L1469.67,894.20 L1470.05,908.50 L1470.40,922.80 M1488.60,876.50 L1489.00,668.30 L1489.16,860.00 L1489.67,874.50 L1490.02,889.00 L1490.32,903.50 L1490.60,918.00 M1509.00,870.90 L1509.40,658.30 L1509.60,854.00 L1510.24,868.70 L1510.67,883.40 L1511.05,898.10 L1511.40,912.80 M1529.00,864.90 L1529.40,646.90 L1529.52,848.00 L1529.90,862.75 L1530.16,877.50 L1530.39,892.25 L1530.60,907.00 M1548.20,858.90 L1548.60,634.90 L1548.78,841.00 L1549.35,855.85 L1549.74,870.70 L1550.09,885.55 L1550.40,900.40 M1567.00,851.90 L1567.40,621.70 L1567.56,833.60 L1568.07,848.55 L1568.42,863.50 L1568.72,878.45 L1569.00,893.40 M1585.30,844.50 L1585.70,604.30 L1585.89,826.00 L1586.49,840.85 L1586.91,855.70 L1587.27,870.55 L1587.60,885.40 M1604.00,837.50 L1604.40,588.10 L1604.51,816.50 L1604.86,831.65 L1605.10,846.80 L1605.31,861.95 L1605.50,877.10 M1620.90,828.50 L1621.30,568.90 L1621.49,807.70 L1622.09,822.88 L1622.51,838.05 L1622.87,853.23 L1623.20,868.40 M1639.10,818.50 L1639.50,546.80 L1639.60,797.50 L1639.92,812.69 L1640.14,827.88 L1640.33,843.06 L1640.50,858.25 M1656.35,808.50 L1656.75,517.80 L1656.88,785.00 L1657.27,800.00 L1657.54,815.00 L1657.78,830.00 L1658.00,845.00 M1673.35,794.50 L1673.75,481.30 L1673.88,767.50 L1674.27,782.75 L1674.54,798.00 L1674.78,813.25 L1675.00,828.50 M1690.10,774.50 L1690.50,426.80 L1690.62,743.75 L1691.02,759.56 L1691.29,775.38 L1691.53,791.19 L1691.75,807.00 M1707.50,742.50 L1707.90,346.30 L1708.12,712.50 L1708.82,727.38 L1709.30,742.25 L1709.72,757.12 L1710.10,772.00 M1723.80,650.70 L1724.70,219.00 L1725.30,655.00" stroke-width="4.9" stroke-dasharray="0.01 8.5"/>
<g fill="#000" stroke="none"><circle cx="321.50" cy="1012.45" r="2.45"/><circle cx="363.40" cy="958.35" r="2.45"/><circle cx="411.50" cy="934.75" r="2.45"/><circle cx="461.40" cy="914.60" r="2.45"/><circle cx="512.60" cy="899.20" r="2.45"/><circle cx="564.50" cy="886.60" r="2.45"/><circle cx="614.25" cy="874.10" r="2.45"/><circle cx="664.25" cy="864.10" r="2.45"/><circle cx="712.00" cy="854.85" r="2.45"/><circle cx="758.25" cy="846.60" r="2.45"/><circle cx="803.25" cy="838.25" r="2.45"/><circle cx="846.25" cy="830.75" r="2.45"/><circle cx="888.25" cy="823.75" r="2.45"/><circle cx="927.50" cy="816.75" r="2.45"/><circle cx="965.50" cy="810.25" r="2.45"/><circle cx="1002.50" cy="803.25" r="2.45"/><circle cx="1038.25" cy="796.50" r="2.45"/><circle cx="1072.00" cy="789.50" r="2.45"/><circle cx="1104.50" cy="782.50" r="2.45"/><circle cx="1136.25" cy="776.25" r="2.45"/><circle cx="1167.00" cy="770.75" r="2.45"/><circle cx="1196.25" cy="763.75" r="2.45"/><circle cx="1225.50" cy="757.00" r="2.45"/><circle cx="1253.00" cy="750.65" r="2.45"/><circle cx="1279.60" cy="743.85" r="2.45"/><circle cx="1305.40" cy="736.85" r="2.45"/><circle cx="1331.40" cy="729.85" r="2.45"/><circle cx="1355.40" cy="720.85" r="2.45"/><circle cx="1379.40" cy="711.85" r="2.45"/><circle cx="1402.60" cy="703.85" r="2.45"/><circle cx="1425.40" cy="695.85" r="2.45"/><circle cx="1447.40" cy="686.85" r="2.45"/><circle cx="1468.40" cy="677.85" r="2.45"/><circle cx="1489.00" cy="668.25" r="2.45"/><circle cx="1509.40" cy="658.25" r="2.45"/><circle cx="1529.40" cy="646.85" r="2.45"/><circle cx="1548.60" cy="634.85" r="2.45"/><circle cx="1567.40" cy="621.65" r="2.45"/><circle cx="1585.70" cy="604.25" r="2.45"/><circle cx="1604.40" cy="588.05" r="2.45"/><circle cx="1621.30" cy="568.85" r="2.45"/><circle cx="1639.50" cy="546.75" r="2.45"/><circle cx="1656.75" cy="517.75" r="2.45"/><circle cx="1673.75" cy="481.25" r="2.45"/><circle cx="1690.50" cy="426.75" r="2.45"/><circle cx="1707.90" cy="346.25" r="2.45"/></g>
<path d="M1729.3,140 L1729.3,660" stroke-width="3" stroke-linecap="butt"/>
<path d="M1728.15,658 L1728.15,720" stroke-width="6.1" stroke-linecap="butt"/><path d="M1728.2,700 L1728.2,720 M1729.9,702 L1729.9,759" stroke-width="5"/>
</g>
<path d="M1707,140 V1072 M1723.1,140 V1072" stroke="#0000ff" stroke-width="4.1" fill="none"/>
<path d="M250.5,575 H1800.5" stroke="#008000" stroke-width="4.1" fill="none"/>
<path d="M250.5,291.8 H1800.5 M250.5,467.8 H1800.5" stroke="#ffa500" stroke-width="2.1" fill="none"/>
<g fill="#ffff00" fill-opacity="0.2" stroke="#ffff00" stroke-opacity="0.2" stroke-width="1.4"><circle cx="1707.4" cy="575.2" r="6.6"/><circle cx="1723.3" cy="550.3" r="6.6"/><circle cx="1723.3" cy="566.2" r="6.6"/></g>
<g font-size="16.2px" fill="#000"><text transform="translate(625.9,877.6) rotate(-78)">n=1</text><text transform="translate(675.9,867.6) rotate(-78)">n=2</text><text transform="translate(723.6,858.4) rotate(-78)">n=3</text><text transform="translate(769.9,850.1) rotate(-78)">n=4</text><text transform="translate(814.9,841.8) rotate(-78)">n=5</text><text transform="translate(857.9,834.3) rotate(-78)">n=6</text><text transform="translate(939.1,820.3) rotate(-78)">n=7</text><text transform="translate(977.1,813.8) rotate(-78)">n=8</text><text transform="translate(1014.1,806.8) rotate(-78)">n=9</text><text transform="translate(1049.9,800.0) rotate(-78)">n=10</text><text transform="translate(1083.7,793.0) rotate(-78)">n=11</text><text transform="translate(1116.2,786.0) rotate(-78)">n=12</text><text transform="translate(1147.9,779.8) rotate(-78)">n=13</text><text transform="translate(1178.7,774.3) rotate(-78)">n=14</text><text transform="translate(1207.9,767.3) rotate(-78)">n=15</text><text transform="translate(1237.2,760.5) rotate(-78)">n=16</text><text transform="translate(1264.7,754.2) rotate(-78)">n=17</text><text transform="translate(1291.2,747.4) rotate(-78)">n=18</text><text transform="translate(1317.1,740.4) rotate(-78)">n=19</text><text transform="translate(1343.1,733.4) rotate(-78)">n=20</text><text transform="translate(1367.1,724.4) rotate(-78)">n=21</text><text transform="translate(1391.1,715.4) rotate(-78)">n=22</text><text transform="translate(1414.2,707.4) rotate(-78)">n=23</text><text transform="translate(1437.1,699.4) rotate(-78)">n=24</text><text transform="translate(1459.1,690.4) rotate(-78)">n=25</text><text transform="translate(1480.1,681.4) rotate(-78)">n=26</text><text transform="translate(1500.7,671.8) rotate(-78)">n=27</text><text transform="translate(1521.1,661.8) rotate(-78)">n=28</text><text transform="translate(1541.1,650.4) rotate(-78)">n=29</text><text transform="translate(1560.2,638.4) rotate(-78)">n=30</text><text transform="translate(1579.1,625.2) rotate(-78)">n=31</text><text transform="translate(1597.4,607.8) rotate(-78)">n=32</text><text transform="translate(1633.0,572.4) rotate(-78)">n=33</text><text transform="translate(1651.2,550.3) rotate(-78)">n=34</text><text transform="translate(1668.4,521.3) rotate(-78)">n=35</text><text transform="translate(1685.4,484.8) rotate(-78)">n=36</text><text transform="translate(1702.2,430.3) rotate(-78)">n=37</text><text transform="translate(1719.6,349.8) rotate(-78)">n=38</text></g>
</g>
<rect x="250.5" y="144.5" width="1550.0" height="924.0" fill="none" stroke="#000" stroke-width="1.2"/>
<g stroke="#000" fill="none"><path d="M250.50,962.00 H233.30" stroke-width="5.8"/><path d="M250.50,815.00 H233.30" stroke-width="5.8"/><path d="M250.50,668.00 H233.30" stroke-width="5.8"/><path d="M250.50,521.00 H233.30" stroke-width="5.8"/><path d="M250.50,374.00 H233.30" stroke-width="5.8"/><path d="M250.50,227.00 H233.30" stroke-width="5.8"/><path d="M250.50,1050.00 H239.20" stroke-width="5.8"/><path d="M250.50,1021.00 H239.20" stroke-width="5.8"/><path d="M250.50,991.00 H239.20" stroke-width="5.8"/><path d="M250.50,932.00 H239.20" stroke-width="5.8"/><path d="M250.50,903.00 H239.20" stroke-width="5.8"/><path d="M250.50,874.00 H239.20" stroke-width="5.8"/><path d="M250.50,844.00 H239.20" stroke-width="5.8"/><path d="M250.50,786.00 H239.20" stroke-width="5.8"/><path d="M250.50,756.00 H239.20" stroke-width="5.8"/><path d="M250.50,727.00 H239.20" stroke-width="5.8"/><path d="M250.50,697.00 H239.20" stroke-width="5.8"/><path d="M250.50,639.00 H239.20" stroke-width="5.8"/><path d="M250.50,609.00 H239.20" stroke-width="5.8"/><path d="M250.50,580.00 H239.20" stroke-width="5.8"/><path d="M250.50,550.00 H239.20" stroke-width="5.8"/><path d="M250.50,492.00 H239.20" stroke-width="5.8"/><path d="M250.50,462.00 H239.20" stroke-width="5.8"/><path d="M250.50,433.00 H239.20" stroke-width="5.8"/><path d="M250.50,404.00 H239.20" stroke-width="5.8"/><path d="M250.50,345.00 H239.20" stroke-width="5.8"/><path d="M250.50,315.00 H239.20" stroke-width="5.8"/><path d="M250.50,286.00 H239.20" stroke-width="5.8"/><path d="M250.50,257.00 H239.20" stroke-width="5.8"/><path d="M250.50,198.00 H239.20" stroke-width="5.8"/><path d="M250.50,169.00 H239.20" stroke-width="5.8"/><path d="M306.00,1068.50 V1085.10" stroke-width="5.8"/><path d="M641.00,1068.50 V1085.10" stroke-width="5.8"/><path d="M977.00,1068.50 V1085.10" stroke-width="5.8"/><path d="M1313.00,1068.50 V1085.10" stroke-width="5.8"/><path d="M1648.00,1068.50 V1085.10" stroke-width="5.8"/><path d="M390.00,1068.50 V1079.10" stroke-width="5.8"/><path d="M474.00,1068.50 V1079.10" stroke-width="5.8"/><path d="M558.00,1068.50 V1079.10" stroke-width="5.8"/><path d="M725.00,1068.50 V1079.10" stroke-width="5.8"/><path d="M809.00,1068.50 V1079.10" stroke-width="5.8"/><path d="M893.00,1068.50 V1079.10" stroke-width="5.8"/><path d="M1061.00,1068.50 V1079.10" stroke-width="5.8"/><path d="M1145.00,1068.50 V1079.10" stroke-width="5.8"/><path d="M1229.00,1068.50 V1079.10" stroke-width="5.8"/><path d="M1396.00,1068.50 V1079.10" stroke-width="5.8"/><path d="M1480.00,1068.50 V1079.10" stroke-width="5.8"/><path d="M1564.00,1068.50 V1079.10" stroke-width="5.8"/><path d="M1732.00,1068.50 V1079.10" stroke-width="5.8"/></g>
<g font-size="35.9px" fill="#000"><text x="305.5" y="1117.2" text-anchor="middle">281.6</text><text x="640.5" y="1117.2" text-anchor="middle">281.8</text><text x="976.5" y="1117.2" text-anchor="middle">282.0</text><text x="1312.5" y="1117.2" text-anchor="middle">282.2</text><text x="1647.5" y="1117.2" text-anchor="middle">282.4</text><text x="228.0" y="976.0" text-anchor="end">100</text><text x="228.0" y="829.0" text-anchor="end">200</text><text x="228.0" y="682.0" text-anchor="end">300</text><text x="228.0" y="535.0" text-anchor="end">400</text><text x="228.0" y="388.0" text-anchor="end">500</text><text x="228.0" y="241.0" text-anchor="end">600</text></g>
<text x="1025" y="1171.6" font-size="55.56px" text-anchor="middle" fill="#000">Age (Myr)</text>
<text transform="translate(140.4,606.75) rotate(-90)" font-size="55.56px" text-anchor="middle" fill="#000">O1 period (days)</text>
<!-- legend -->
<g>
<rect x="263.6" y="157.5" width="534.6" height="217.8" rx="4" ry="4" fill="#fff" fill-opacity="0.8" stroke="#ccc" stroke-opacity="0.9" stroke-width="1.4"/>
<path d="M271.6,176.7 H324.4" stroke="#000" stroke-width="2.1" fill="none"/><circle cx="298" cy="176.7" r="2.15" fill="#000"/>
<path d="M270.6,214 H325.4" stroke="#0000ff" stroke-width="4.1" fill="none"/>
<path d="M270.6,251 H325.4" stroke="#008000" stroke-width="4.1" fill="none"/>
<path d="M271.6,287 H324.4" stroke="#ffa500" stroke-width="2.1" fill="none"/>
<circle cx="298.3" cy="340.3" r="6.7" fill="#ffff00" fill-opacity="0.2" stroke="#ffff00" stroke-opacity="0.2" stroke-width="1.4"/>
<g font-size="25px" fill="#000">
<text x="342.6" y="186">m3.00_z0.0010_y0.251</text>
<text x="342.6" y="222.5">peak detector horizontal bounds</text>
<text x="342.6" y="259.5">min. P consistent with observations</text>
<text x="342.6" y="296">max. P must fall within this span</text>
<text x="342.6" y="332.5">intersection w/ P,L,T,R</text>
<text x="342.6" y="359.6">loosely defined</text>
</g>
</g>
</svg>
</body></html>
